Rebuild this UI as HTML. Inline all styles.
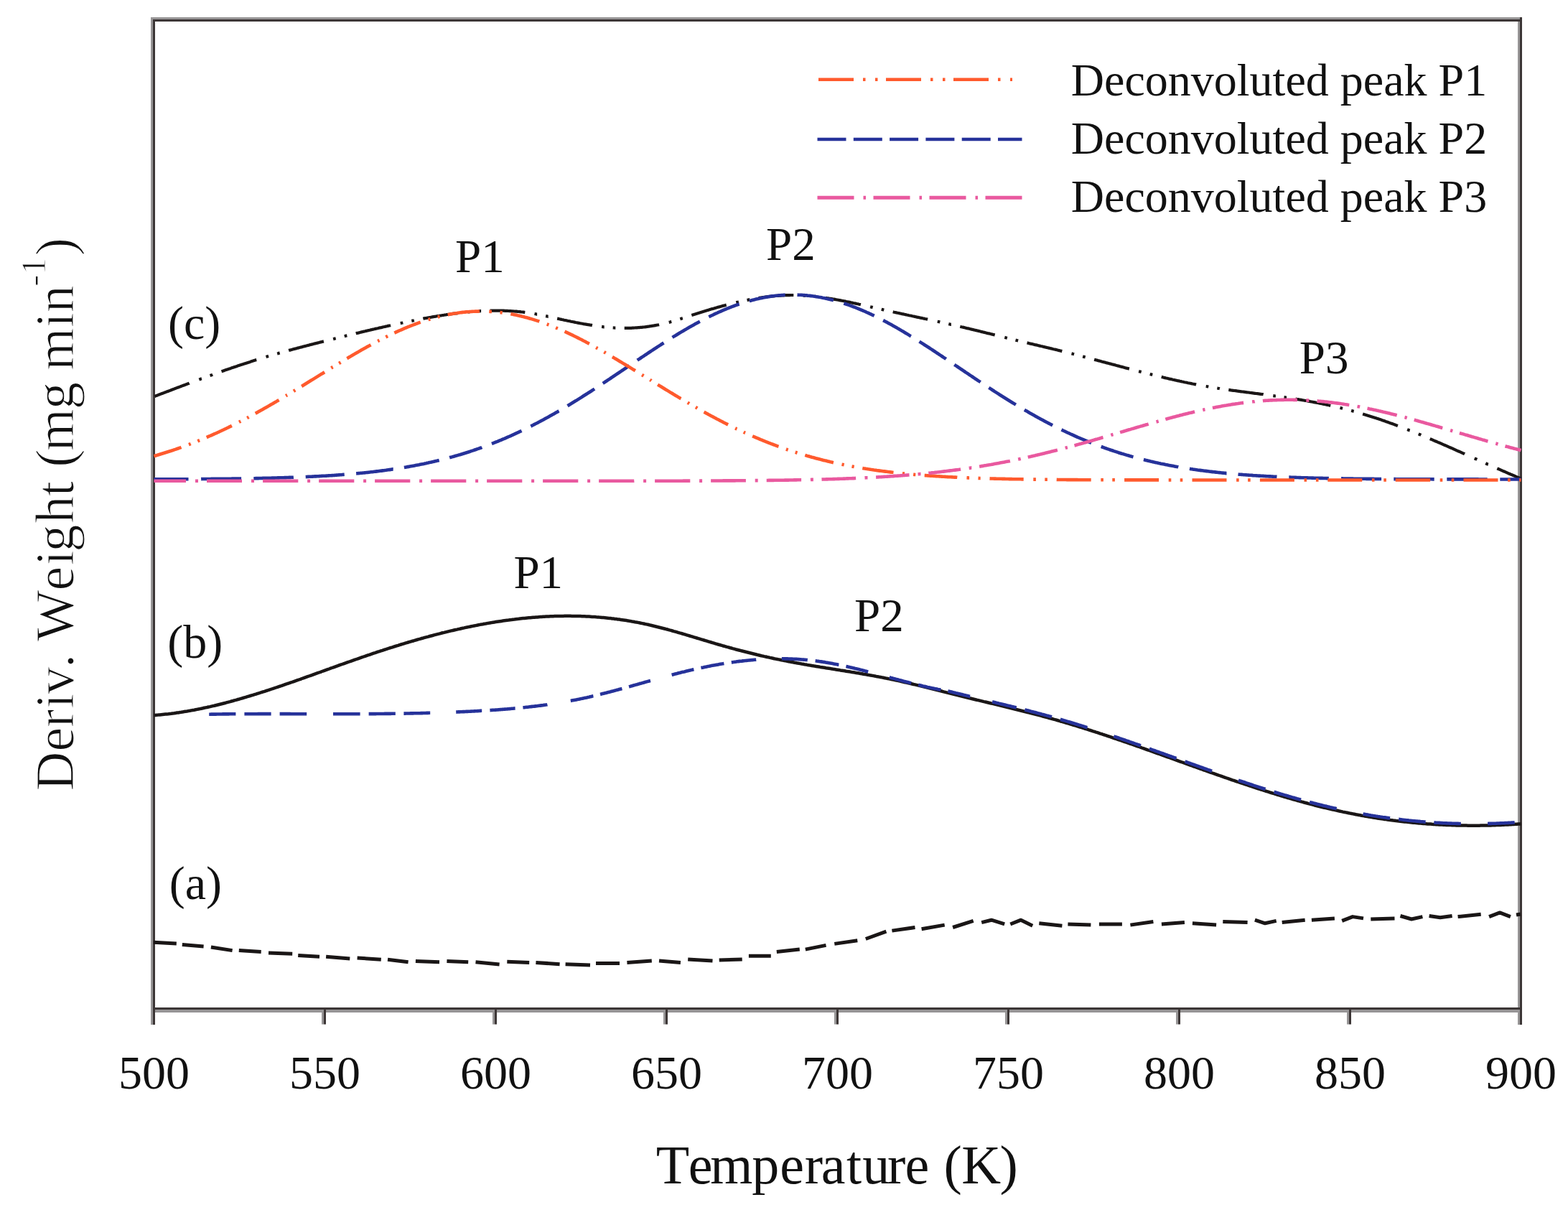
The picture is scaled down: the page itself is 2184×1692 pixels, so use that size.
<!DOCTYPE html>
<html><head><meta charset="utf-8"><title>Deriv. Weight vs Temperature</title><style>html,body{margin:0;padding:0;background:#fff;overflow:hidden}svg{display:block}text{font-kerning:none;font-variant-ligatures:none}</style></head><body>
<svg width="2184" height="1692" viewBox="0 0 2184 1692">
<rect width="2184" height="1692" fill="#ffffff"/>
<rect x="210" y="24" width="3" height="1403" fill="#979596"/>
<rect x="213" y="27" width="3" height="1400" fill="#3c3636"/>
<rect x="213" y="24" width="1907" height="3" fill="#979596"/>
<rect x="216" y="27" width="1904" height="3" fill="#3c3636"/>
<rect x="2114" y="30" width="3" height="1397" fill="#979596"/>
<rect x="2117" y="24" width="3" height="1403" fill="#3c3636"/>
<rect x="216" y="1403" width="1901" height="3" fill="#3c3636"/>
<rect x="216" y="1406" width="1901" height="4" fill="#979596"/>
<rect x="448.0" y="1406" width="3" height="20.5" fill="#979596"/>
<rect x="451.0" y="1403" width="3" height="23.5" fill="#3c3636"/>
<rect x="686.0" y="1406" width="3" height="20.5" fill="#979596"/>
<rect x="689.0" y="1403" width="3" height="23.5" fill="#3c3636"/>
<rect x="924.0" y="1406" width="3" height="20.5" fill="#979596"/>
<rect x="927.0" y="1403" width="3" height="23.5" fill="#3c3636"/>
<rect x="1162.0" y="1406" width="3" height="20.5" fill="#979596"/>
<rect x="1165.0" y="1403" width="3" height="23.5" fill="#3c3636"/>
<rect x="1400.0" y="1406" width="3" height="20.5" fill="#979596"/>
<rect x="1403.0" y="1403" width="3" height="23.5" fill="#3c3636"/>
<rect x="1638.0" y="1406" width="3" height="20.5" fill="#979596"/>
<rect x="1641.0" y="1403" width="3" height="23.5" fill="#3c3636"/>
<rect x="1876.0" y="1406" width="3" height="20.5" fill="#979596"/>
<rect x="1879.0" y="1403" width="3" height="23.5" fill="#3c3636"/>
<g fill="none" stroke-linejoin="round" stroke-linecap="butt">
<path d="M215.3,552.0 L216.9,551.4 L218.5,550.8 L220.1,550.1 L221.7,549.5 L223.3,548.9 L224.9,548.3 L226.5,547.7 L228.1,547.1 L229.7,546.5 L231.3,545.9 L232.9,545.3 L234.5,544.7 L236.1,544.1 L237.7,543.5 L239.3,542.8 L240.9,542.2 L242.5,541.6 L244.1,541.0 L245.7,540.4 L247.3,539.8 L248.9,539.2 L250.5,538.6 L252.1,538.0 L253.7,537.4 L255.3,536.8 L256.9,536.2 L258.5,535.6 L260.1,535.0 L261.7,534.4 L263.3,533.8 L263.7,533.6 M277.3,528.6 L278.9,528.0 L280.5,527.4 L280.9,527.3 M292.5,523.0 L294.1,522.5 L295.7,521.9 L296.1,521.7 M308.5,517.3 L310.1,516.8 L311.7,516.2 L313.3,515.6 L314.9,515.1 L316.5,514.5 L318.1,514.0 L319.7,513.4 L321.3,512.9 L322.9,512.3 L324.5,511.8 L326.1,511.2 L327.7,510.7 L329.3,510.2 L330.9,509.6 L332.5,509.1 L334.1,508.5 L335.7,508.0 L337.3,507.5 L338.9,507.0 L340.5,506.4 L342.1,505.9 L343.7,505.4 L345.3,504.9 L346.9,504.4 L348.5,503.9 L350.1,503.3 L351.7,502.8 L353.3,502.3 L354.9,501.8 L356.5,501.3 L357.3,501.1 M370.5,497.1 L372.1,496.6 L373.7,496.1 L374.1,496.0 M386.1,492.5 L387.7,492.1 L389.3,491.6 L389.7,491.5 M402.1,488.1 L403.7,487.6 L405.3,487.2 L406.9,486.8 L408.5,486.3 L410.1,485.9 L411.7,485.5 L413.3,485.1 L414.9,484.6 L416.5,484.2 L418.1,483.8 L419.7,483.4 L421.3,482.9 L422.9,482.5 L424.5,482.1 L426.1,481.7 L427.7,481.3 L429.3,480.9 L430.9,480.4 L432.5,480.0 L434.1,479.6 L435.7,479.2 L437.3,478.8 L438.9,478.4 L440.5,478.0 L442.1,477.6 L443.7,477.2 L445.3,476.8 L446.9,476.4 L448.5,476.0 L450.1,475.6 L450.9,475.4 M464.1,472.1 L465.7,471.7 L467.3,471.3 L467.7,471.2 M479.7,468.2 L481.3,467.8 L482.9,467.4 L483.3,467.3 M495.7,464.3 L497.3,463.9 L498.9,463.6 L500.5,463.2 L502.1,462.8 L503.7,462.4 L505.3,462.0 L506.9,461.6 L508.5,461.3 L510.1,460.9 L511.7,460.5 L513.3,460.1 L514.9,459.8 L516.5,459.4 L518.1,459.0 L519.7,458.6 L521.3,458.3 L522.9,457.9 L524.5,457.5 L526.1,457.2 L527.7,456.8 L529.3,456.4 L530.9,456.1 L532.5,455.7 L534.1,455.3 L535.7,455.0 L537.3,454.6 L538.9,454.3 L540.5,453.9 L542.1,453.5 L543.7,453.2 L544.1,453.1 M557.7,450.1 L559.3,449.8 L560.9,449.5 L561.3,449.4 M573.3,446.9 L574.9,446.6 L576.5,446.3 L576.9,446.2 M589.3,443.8 L590.9,443.4 L592.5,443.1 L594.1,442.9 L595.7,442.6 L597.3,442.3 L598.9,442.0 L600.5,441.7 L602.1,441.4 L603.7,441.1 L605.3,440.8 L606.9,440.6 L608.5,440.3 L610.1,440.0 L611.7,439.8 L613.3,439.5 L614.9,439.3 L616.5,439.0 L618.1,438.8 L619.7,438.5 L621.3,438.3 L622.9,438.0 L624.5,437.8 L626.1,437.6 L627.7,437.3 L629.3,437.1 L630.9,436.9 L632.5,436.7 L634.1,436.5 L635.7,436.3 L637.3,436.1 L637.7,436.0 M651.3,434.5 L652.9,434.4 L654.5,434.2 L654.9,434.2 M666.5,433.3 L668.1,433.2 L669.7,433.1 L670.1,433.1 M682.5,432.6 L684.1,432.6 L685.7,432.6 L687.3,432.6 L688.9,432.6 L690.5,432.6 L692.1,432.6 L693.7,432.6 L695.3,432.6 L696.9,432.6 L698.5,432.6 L700.1,432.7 L701.7,432.7 L703.3,432.8 L704.9,432.8 L706.5,432.9 L708.1,433.0 L709.7,433.1 L711.3,433.2 L712.9,433.3 L714.5,433.4 L716.1,433.5 L717.7,433.6 L719.3,433.7 L720.9,433.9 L722.5,434.0 L724.1,434.2 L725.7,434.4 L727.3,434.5 L728.9,434.7 L730.5,434.9 L731.3,435.0 M744.5,437.0 L746.1,437.3 L747.7,437.6 L748.1,437.6 M760.1,440.1 L761.7,440.4 L763.3,440.8 L763.7,440.8 M776.1,443.6 L777.7,443.9 L779.3,444.3 L780.9,444.6 L782.5,445.0 L784.1,445.3 L785.7,445.7 L787.3,446.0 L788.9,446.3 L790.5,446.7 L792.1,447.0 L793.7,447.3 L795.3,447.7 L796.9,448.0 L798.5,448.3 L800.1,448.6 L801.7,449.0 L803.3,449.3 L804.9,449.6 L806.5,449.9 L808.1,450.2 L809.7,450.5 L811.3,450.8 L812.9,451.1 L814.5,451.3 L816.1,451.6 L817.7,451.9 L819.3,452.2 L820.9,452.4 L822.5,452.7 L824.1,452.9 L824.9,453.1 M838.1,454.9 L839.7,455.1 L841.3,455.3 L841.7,455.3 M853.7,456.4 L855.3,456.5 L856.9,456.6 L857.3,456.6 M869.7,456.9 L871.3,456.9 L872.9,456.9 L874.5,456.9 L876.1,456.9 L877.7,456.8 L879.3,456.8 L880.9,456.7 L882.5,456.6 L884.1,456.5 L885.7,456.4 L887.3,456.3 L888.9,456.2 L890.5,456.1 L892.1,455.9 L893.7,455.8 L895.3,455.6 L896.9,455.5 L898.5,455.3 L900.1,455.1 L901.7,454.9 L903.3,454.7 L904.9,454.4 L906.5,454.2 L908.1,453.9 L909.7,453.7 L911.3,453.4 L912.9,453.1 L914.5,452.8 L916.1,452.5 L917.7,452.2 L918.1,452.1 M931.7,448.9 L933.3,448.5 L934.9,448.0 L935.3,447.9 M947.3,444.3 L948.9,443.8 L950.5,443.3 L950.9,443.2 M963.3,439.1 L964.9,438.6 L966.5,438.1 L968.1,437.6 L969.7,437.0 L971.3,436.5 L972.9,436.0 L974.5,435.5 L976.1,435.0 L977.7,434.5 L979.3,434.0 L980.9,433.5 L982.5,433.0 L984.1,432.5 L985.7,432.0 L987.3,431.6 L988.9,431.1 L990.5,430.6 L992.1,430.1 L993.7,429.7 L995.3,429.2 L996.9,428.7 L998.5,428.3 L1000.1,427.8 L1001.7,427.4 L1003.3,426.9 L1004.9,426.5 L1006.5,426.0 L1008.1,425.6 L1009.7,425.2 L1011.3,424.7 L1011.7,424.6 M1025.3,421.2 L1026.9,420.8 L1028.5,420.5 L1028.9,420.4 M1040.5,417.9 L1042.1,417.6 L1043.7,417.2 L1044.1,417.2 M1056.5,415.0 L1058.1,414.7 L1059.7,414.5 L1061.3,414.2 L1062.9,414.0 L1064.5,413.8 L1066.1,413.6 L1067.7,413.4 L1069.3,413.2 L1070.9,413.0 L1072.5,412.8 L1074.1,412.6 L1075.7,412.5 L1077.3,412.3 L1078.9,412.2 L1080.5,412.0 L1082.1,411.9 L1083.7,411.8 L1085.3,411.7 L1086.9,411.6 L1088.5,411.5 L1090.1,411.4 L1091.7,411.3 L1093.3,411.2 L1094.9,411.2 L1096.5,411.1 L1098.1,411.1 L1099.7,411.1 L1101.3,411.0 L1102.9,411.0 L1104.5,411.0 L1105.3,411.0 M1118.5,411.5 L1120.1,411.6 L1121.7,411.7 L1122.1,411.7 M1134.1,412.8 L1135.7,412.9 L1137.3,413.1 L1137.7,413.2 M1150.1,414.8 L1151.7,415.1 L1153.3,415.3 L1154.9,415.6 L1156.5,415.8 L1158.1,416.1 L1159.7,416.4 L1161.3,416.6 L1162.9,416.9 L1164.5,417.2 L1166.1,417.5 L1167.7,417.8 L1169.3,418.1 L1170.9,418.4 L1172.5,418.7 L1174.1,419.0 L1175.7,419.3 L1177.3,419.6 L1178.9,420.0 L1180.5,420.3 L1182.1,420.6 L1183.7,420.9 L1185.3,421.3 L1186.9,421.6 L1188.5,422.0 L1190.1,422.3 L1191.7,422.6 L1193.3,423.0 L1194.9,423.3 L1196.5,423.7 L1198.1,424.0 L1198.9,424.2 M1212.1,427.2 L1213.7,427.6 L1215.3,427.9 L1215.7,428.0 M1227.7,430.7 L1229.3,431.1 L1230.9,431.5 L1231.3,431.6 M1243.7,434.3 L1245.3,434.7 L1246.9,435.0 L1248.5,435.4 L1250.1,435.7 L1251.7,436.0 L1253.3,436.4 L1254.9,436.7 L1256.5,437.1 L1258.1,437.4 L1259.7,437.8 L1261.3,438.1 L1262.9,438.5 L1264.5,438.8 L1266.1,439.2 L1267.7,439.5 L1269.3,439.8 L1270.9,440.2 L1272.5,440.5 L1274.1,440.9 L1275.7,441.2 L1277.3,441.6 L1278.9,441.9 L1280.5,442.2 L1282.1,442.6 L1283.7,442.9 L1285.3,443.3 L1286.9,443.6 L1288.5,444.0 L1290.1,444.3 L1291.7,444.6 L1292.1,444.7 M1305.7,447.7 L1307.3,448.0 L1308.9,448.4 L1309.3,448.5 M1321.3,451.1 L1322.9,451.5 L1324.5,451.9 L1324.9,451.9 M1337.3,454.8 L1338.9,455.2 L1340.5,455.5 L1342.1,455.9 L1343.7,456.3 L1345.3,456.7 L1346.9,457.1 L1348.5,457.4 L1350.1,457.8 L1351.7,458.2 L1353.3,458.6 L1354.9,459.0 L1356.5,459.4 L1358.1,459.7 L1359.7,460.1 L1361.3,460.5 L1362.9,460.9 L1364.5,461.3 L1366.1,461.7 L1367.7,462.1 L1369.3,462.5 L1370.9,462.9 L1372.5,463.3 L1374.1,463.7 L1375.7,464.1 L1377.3,464.4 L1378.9,464.8 L1380.5,465.2 L1382.1,465.6 L1383.7,466.0 L1385.3,466.4 L1385.7,466.5 M1399.3,469.9 L1400.9,470.3 L1402.5,470.7 L1402.9,470.8 M1414.5,473.6 L1416.1,474.0 L1417.7,474.4 L1418.1,474.5 M1430.5,477.4 L1432.1,477.8 L1433.7,478.2 L1435.3,478.6 L1436.9,478.9 L1438.5,479.3 L1440.1,479.7 L1441.7,480.1 L1443.3,480.4 L1444.9,480.8 L1446.5,481.2 L1448.1,481.6 L1449.7,482.0 L1451.3,482.3 L1452.9,482.7 L1454.5,483.1 L1456.1,483.5 L1457.7,483.9 L1459.3,484.2 L1460.9,484.6 L1462.5,485.0 L1464.1,485.4 L1465.7,485.8 L1467.3,486.2 L1468.9,486.5 L1470.5,486.9 L1472.1,487.3 L1473.7,487.7 L1475.3,488.1 L1476.9,488.5 L1478.5,488.9 L1479.3,489.1 M1492.5,492.4 L1494.1,492.8 L1495.7,493.2 L1496.1,493.3 M1508.1,496.5 L1509.7,496.9 L1511.3,497.3 L1511.7,497.4 M1524.1,500.7 L1525.7,501.1 L1527.3,501.5 L1528.9,501.9 L1530.5,502.4 L1532.1,502.8 L1533.7,503.2 L1535.3,503.7 L1536.9,504.1 L1538.5,504.5 L1540.1,504.9 L1541.7,505.4 L1543.3,505.8 L1544.9,506.2 L1546.5,506.6 L1548.1,507.1 L1549.7,507.5 L1551.3,507.9 L1552.9,508.3 L1554.5,508.8 L1556.1,509.2 L1557.7,509.6 L1559.3,510.1 L1560.9,510.5 L1562.5,510.9 L1564.1,511.3 L1565.7,511.7 L1567.3,512.2 L1568.9,512.6 L1570.5,513.0 L1572.1,513.4 L1572.9,513.6 M1586.1,517.1 L1587.7,517.5 L1589.3,517.9 L1589.7,518.0 M1601.7,521.0 L1603.3,521.4 L1604.9,521.8 L1605.3,521.9 M1617.7,524.9 L1619.3,525.3 L1620.9,525.7 L1622.5,526.1 L1624.1,526.5 L1625.7,526.8 L1627.3,527.2 L1628.9,527.6 L1630.5,527.9 L1632.1,528.3 L1633.7,528.7 L1635.3,529.0 L1636.9,529.4 L1638.5,529.7 L1640.1,530.1 L1641.7,530.4 L1643.3,530.8 L1644.9,531.1 L1646.5,531.5 L1648.1,531.8 L1649.7,532.2 L1651.3,532.5 L1652.9,532.8 L1654.5,533.2 L1656.1,533.5 L1657.7,533.8 L1659.3,534.1 L1660.9,534.5 L1662.5,534.8 L1664.1,535.1 L1665.7,535.4 L1666.1,535.5 M1679.7,538.0 L1681.3,538.2 L1682.9,538.5 L1683.3,538.6 M1695.3,540.5 L1696.9,540.8 L1698.5,541.0 L1698.9,541.1 M1711.3,542.9 L1712.9,543.1 L1714.5,543.4 L1716.1,543.6 L1717.7,543.8 L1719.3,544.0 L1720.9,544.2 L1722.5,544.4 L1724.1,544.7 L1725.7,544.9 L1727.3,545.1 L1728.9,545.3 L1730.5,545.5 L1732.1,545.7 L1733.7,545.9 L1735.3,546.1 L1736.9,546.3 L1738.5,546.5 L1740.1,546.7 L1741.7,547.0 L1743.3,547.2 L1744.9,547.4 L1746.5,547.6 L1748.1,547.8 L1749.7,548.0 L1751.3,548.2 L1752.9,548.4 L1754.5,548.6 L1756.1,548.8 L1757.7,549.0 L1759.3,549.2 L1759.7,549.3 M1773.3,551.1 L1774.9,551.3 L1776.5,551.5 L1776.9,551.5 M1788.5,553.2 L1790.1,553.4 L1791.7,553.7 L1792.1,553.7 M1804.5,555.6 L1806.1,555.9 L1807.7,556.1 L1809.3,556.4 L1810.9,556.7 L1812.5,556.9 L1814.1,557.2 L1815.7,557.5 L1817.3,557.8 L1818.9,558.0 L1820.5,558.3 L1822.1,558.6 L1823.7,558.9 L1825.3,559.2 L1826.9,559.5 L1828.5,559.8 L1830.1,560.1 L1831.7,560.4 L1833.3,560.7 L1834.9,561.0 L1836.5,561.3 L1838.1,561.7 L1839.7,562.0 L1841.3,562.3 L1842.9,562.6 L1844.5,563.0 L1846.1,563.3 L1847.7,563.6 L1849.3,564.0 L1850.9,564.3 L1852.5,564.7 L1853.3,564.9 M1866.5,567.9 L1868.1,568.3 L1869.7,568.7 L1870.1,568.8 M1882.1,571.9 L1883.7,572.3 L1885.3,572.8 L1885.7,572.9 M1898.1,576.4 L1899.7,576.9 L1901.3,577.4 L1902.9,577.9 L1904.5,578.4 L1906.1,578.9 L1907.7,579.4 L1909.3,579.9 L1910.9,580.4 L1912.5,580.9 L1914.1,581.4 L1915.7,581.9 L1917.3,582.5 L1918.9,583.0 L1920.5,583.5 L1922.1,584.1 L1923.7,584.6 L1925.3,585.2 L1926.9,585.7 L1928.5,586.3 L1930.1,586.9 L1931.7,587.4 L1933.3,588.0 L1934.9,588.6 L1936.5,589.2 L1938.1,589.7 L1939.7,590.3 L1941.3,590.9 L1942.9,591.5 L1944.5,592.1 L1946.1,592.7 L1946.9,593.0 M1960.1,598.1 L1961.7,598.7 L1963.3,599.4 L1963.7,599.5 M1975.7,604.4 L1977.3,605.0 L1978.9,605.7 L1979.3,605.9 M1991.7,611.1 L1993.3,611.7 L1994.9,612.4 L1996.5,613.1 L1998.1,613.8 L1999.7,614.5 L2001.3,615.2 L2002.9,615.9 L2004.5,616.5 L2006.1,617.2 L2007.7,617.9 L2009.3,618.6 L2010.9,619.3 L2012.5,620.0 L2014.1,620.7 L2015.7,621.4 L2017.3,622.1 L2018.9,622.8 L2020.5,623.5 L2022.1,624.2 L2023.7,624.9 L2025.3,625.7 L2026.9,626.4 L2028.5,627.1 L2030.1,627.8 L2031.7,628.5 L2033.3,629.2 L2034.9,629.9 L2036.5,630.6 L2038.1,631.3 L2039.7,632.0 L2040.1,632.2 M2053.7,638.3 L2055.3,639.0 L2056.9,639.7 L2057.3,639.9 M2069.3,645.2 L2070.9,646.0 L2072.5,646.7 L2072.9,646.8 M2085.3,652.3 L2086.9,653.0 L2088.5,653.7 L2090.1,654.4 L2091.7,655.1 L2093.3,655.8 L2094.9,656.5 L2096.5,657.2 L2098.1,657.9 L2099.7,658.6 L2101.3,659.3 L2102.9,660.0 L2104.5,660.7 L2106.1,661.3 L2107.7,662.0 L2109.3,662.7 L2110.9,663.4 L2112.5,664.1 L2114.1,664.7 L2115.7,665.4 L2117.3,666.1 L2118.5,666.6" stroke="#1a1616" stroke-width="4.2"/>
<path d="M214.5,667.3 L216.1,667.3 L217.7,667.3 L219.3,667.3 L220.9,667.3 L222.5,667.3 L224.1,667.3 L225.7,667.3 L227.3,667.3 L228.9,667.3 L230.5,667.3 L232.1,667.3 L233.7,667.3 L235.3,667.3 L236.9,667.3 L238.5,667.3 L240.1,667.3 L241.7,667.3 L243.3,667.3 L244.9,667.2 L246.5,667.2 L248.1,667.2 L249.7,667.2 L251.3,667.2 L252.9,667.2 L254.5,667.2 L256.1,667.2 L257.7,667.2 L259.3,667.2 L260.9,667.2 L262.5,667.2 M280.1,667.1 L281.7,667.0 L283.3,667.0 L284.9,667.0 L286.5,667.0 L288.1,667.0 L289.7,667.0 L291.3,667.0 L292.9,667.0 L294.5,666.9 L296.1,666.9 L297.7,666.9 L299.3,666.9 L300.9,666.9 L302.5,666.9 L304.1,666.9 L305.7,666.8 L307.3,666.8 L308.9,666.8 L310.5,666.8 L312.1,666.8 L313.7,666.8 L315.3,666.7 L316.9,666.7 L318.5,666.7 L320.1,666.7 L321.7,666.7 L323.3,666.6 L324.9,666.6 L326.5,666.6 L328.1,666.6 L329.7,666.6 L331.3,666.5 L332.9,666.5 L334.5,666.5 L336.1,666.5 M353.3,666.2 L354.9,666.2 L356.5,666.1 L358.1,666.1 L359.7,666.1 L361.3,666.0 L362.9,666.0 L364.5,666.0 L366.1,665.9 L367.7,665.9 L369.3,665.9 L370.9,665.8 L372.5,665.8 L374.1,665.8 L375.7,665.7 L377.3,665.7 L378.9,665.6 L380.5,665.6 L382.1,665.6 L383.7,665.5 L385.3,665.5 L386.9,665.4 L388.5,665.4 L390.1,665.3 L391.7,665.3 L393.3,665.2 L394.9,665.2 L396.5,665.1 L398.1,665.1 L399.7,665.0 L401.3,665.0 L402.9,664.9 L404.5,664.9 L406.1,664.8 L407.7,664.8 L408.9,664.7 M425.7,664.1 L427.3,664.0 L428.9,663.9 L430.5,663.8 L432.1,663.8 L433.7,663.7 L435.3,663.6 L436.9,663.5 L438.5,663.4 L440.1,663.4 L441.7,663.3 L443.3,663.2 L444.9,663.1 L446.5,663.0 L448.1,662.9 L449.7,662.8 L451.3,662.8 L452.9,662.7 L454.5,662.6 L456.1,662.5 L457.7,662.4 L459.3,662.3 L460.9,662.2 L462.5,662.1 L464.1,662.0 L465.7,661.9 L467.3,661.7 L468.9,661.6 L470.5,661.5 L472.1,661.4 L473.7,661.3 L475.3,661.2 L476.9,661.0 L478.5,660.9 L479.7,660.8 M496.1,659.4 L497.7,659.3 L499.3,659.1 L500.9,659.0 L502.5,658.8 L504.1,658.7 L505.7,658.5 L507.3,658.4 L508.9,658.2 L510.5,658.0 L512.1,657.9 L513.7,657.7 L515.3,657.5 L516.9,657.3 L518.5,657.2 L520.1,657.0 L521.7,656.8 L523.3,656.6 L524.9,656.4 L526.5,656.2 L528.1,656.0 L529.7,655.8 L531.3,655.6 L532.9,655.4 L534.5,655.2 L536.1,655.0 L537.7,654.8 L539.3,654.5 L540.9,654.3 L542.5,654.1 L544.1,653.9 L545.7,653.6 L547.3,653.4 L547.7,653.4 M562.9,651.0 L564.5,650.7 L566.1,650.4 L567.7,650.1 L569.3,649.9 L570.9,649.6 L572.5,649.3 L574.1,649.0 L575.7,648.7 L577.3,648.4 L578.9,648.1 L580.5,647.8 L582.1,647.5 L583.7,647.2 L585.3,646.8 L586.9,646.5 L588.5,646.2 L590.1,645.9 L591.7,645.5 L593.3,645.2 L594.9,644.8 L596.5,644.5 L598.1,644.1 L599.7,643.8 L601.3,643.4 L602.9,643.1 L604.5,642.7 L606.1,642.3 L607.7,641.9 L609.3,641.6 L610.9,641.2 L611.7,641.0 M626.1,637.3 L627.7,636.8 L629.3,636.4 L630.9,635.9 L632.5,635.5 L634.1,635.0 L635.7,634.6 L637.3,634.1 L638.9,633.6 L640.5,633.2 L642.1,632.7 L643.7,632.2 L645.3,631.7 L646.9,631.2 L648.5,630.7 L650.1,630.2 L651.7,629.7 L653.3,629.2 L654.9,628.7 L656.5,628.1 L658.1,627.6 L659.7,627.1 L661.3,626.5 L662.9,626.0 L664.5,625.4 L666.1,624.9 L667.7,624.3 L669.3,623.8 L670.9,623.2 L671.3,623.0 M684.9,617.9 L686.5,617.3 L688.1,616.7 L689.7,616.0 L691.3,615.4 L692.9,614.8 L694.5,614.1 L696.1,613.4 L697.7,612.8 L699.3,612.1 L700.9,611.4 L702.5,610.8 L704.1,610.1 L705.7,609.4 L707.3,608.7 L708.9,608.0 L710.5,607.3 L712.1,606.6 L713.7,605.8 L715.3,605.1 L716.9,604.4 L718.5,603.6 L720.1,602.9 L721.7,602.2 L723.3,601.4 L724.9,600.7 L726.5,599.9 M739.3,593.6 L740.9,592.8 L742.5,592.0 L744.1,591.1 L745.7,590.3 L747.3,589.5 L748.9,588.7 L750.5,587.8 L752.1,587.0 L753.7,586.1 L755.3,585.3 L756.9,584.4 L758.5,583.5 L760.1,582.6 L761.7,581.8 L763.3,580.9 L764.9,580.0 L766.5,579.1 L768.1,578.2 L769.7,577.3 L771.3,576.4 L772.9,575.5 L774.5,574.6 L776.1,573.7 L777.7,572.7 L778.5,572.3 M790.5,565.2 L792.1,564.2 L793.7,563.2 L795.3,562.3 L796.9,561.3 L798.5,560.3 L800.1,559.3 L801.7,558.3 L803.3,557.4 L804.9,556.4 L806.5,555.4 L808.1,554.4 L809.7,553.4 L811.3,552.3 L812.9,551.3 L814.5,550.3 L816.1,549.3 L817.7,548.3 L819.3,547.2 L820.9,546.2 L822.5,545.2 L824.1,544.2 L825.7,543.1 L827.3,542.1 L828.1,541.6 M839.7,533.9 L841.3,532.9 L842.9,531.8 L844.5,530.8 L846.1,529.7 L847.7,528.6 L849.3,527.6 L850.9,526.5 L852.5,525.4 L854.1,524.3 L855.7,523.3 L857.3,522.2 L858.9,521.1 L860.5,520.0 L862.1,519.0 L863.7,517.9 L865.3,516.8 L866.9,515.7 L868.5,514.7 L870.1,513.6 L871.7,512.5 L873.3,511.4 L874.9,510.3 L876.5,509.3 M887.7,501.7 L889.3,500.6 L890.9,499.6 L892.5,498.5 L894.1,497.4 L895.7,496.4 L897.3,495.3 L898.9,494.2 L900.5,493.2 L902.1,492.1 L903.7,491.0 L905.3,490.0 L906.9,488.9 L908.5,487.9 L910.1,486.8 L911.7,485.8 L913.3,484.7 L914.9,483.7 L916.5,482.6 L918.1,481.6 L919.7,480.6 L921.3,479.5 L922.9,478.5 L924.5,477.5 M936.5,469.9 L938.1,468.9 L939.7,467.9 L941.3,467.0 L942.9,466.0 L944.5,465.0 L946.1,464.0 L947.7,463.1 L949.3,462.1 L950.9,461.2 L952.5,460.2 L954.1,459.3 L955.7,458.4 L957.3,457.4 L958.9,456.5 L960.5,455.6 L962.1,454.7 L963.7,453.8 L965.3,452.9 L966.9,452.0 L968.5,451.1 L970.1,450.2 L971.7,449.4 L973.3,448.5 L974.9,447.7 M987.3,441.3 L988.9,440.5 L990.5,439.7 L992.1,439.0 L993.7,438.2 L995.3,437.4 L996.9,436.7 L998.5,436.0 L1000.1,435.2 L1001.7,434.5 L1003.3,433.8 L1004.9,433.1 L1006.5,432.4 L1008.1,431.7 L1009.7,431.0 L1011.3,430.4 L1012.9,429.7 L1014.5,429.1 L1016.1,428.4 L1017.7,427.8 L1019.3,427.2 L1020.9,426.6 L1022.5,426.0 L1024.1,425.4 L1025.7,424.8 L1027.3,424.3 L1028.9,423.7 L1029.7,423.5 M1043.7,419.1 L1045.3,418.7 L1046.9,418.2 L1048.5,417.8 L1050.1,417.4 L1051.7,417.0 L1053.3,416.6 L1054.9,416.2 L1056.5,415.9 L1058.1,415.5 L1059.7,415.2 L1061.3,414.9 L1062.9,414.5 L1064.5,414.2 L1066.1,413.9 L1067.7,413.7 L1069.3,413.4 L1070.9,413.1 L1072.5,412.9 L1074.1,412.6 L1075.7,412.4 L1077.3,412.2 L1078.9,412.0 L1080.5,411.8 L1082.1,411.7 L1083.7,411.5 L1085.3,411.3 L1086.9,411.2 L1088.5,411.1 L1090.1,411.0 L1091.7,410.9 L1093.3,410.8 L1093.7,410.8 M1110.5,410.6 L1112.1,410.7 L1113.7,410.7 L1115.3,410.8 L1116.9,410.9 L1118.5,411.0 L1120.1,411.1 L1121.7,411.3 L1123.3,411.4 L1124.9,411.6 L1126.5,411.7 L1128.1,411.9 L1129.7,412.1 L1131.3,412.3 L1132.9,412.5 L1134.5,412.7 L1136.1,413.0 L1137.7,413.2 L1139.3,413.5 L1140.9,413.8 L1142.5,414.0 L1144.1,414.3 L1145.7,414.7 L1147.3,415.0 L1148.9,415.3 L1150.5,415.7 L1152.1,416.0 L1153.7,416.4 L1155.3,416.8 L1156.9,417.2 L1158.5,417.6 L1160.1,418.0 L1160.9,418.2 M1175.3,422.5 L1176.9,423.0 L1178.5,423.5 L1180.1,424.1 L1181.7,424.6 L1183.3,425.2 L1184.9,425.8 L1186.5,426.4 L1188.1,427.0 L1189.7,427.6 L1191.3,428.2 L1192.9,428.8 L1194.5,429.5 L1196.1,430.1 L1197.7,430.8 L1199.3,431.5 L1200.9,432.1 L1202.5,432.8 L1204.1,433.5 L1205.7,434.2 L1207.3,435.0 L1208.9,435.7 L1210.5,436.4 L1212.1,437.2 L1213.7,437.9 L1215.3,438.7 L1216.9,439.4 L1217.7,439.8 M1230.1,446.1 L1231.7,446.9 L1233.3,447.8 L1234.9,448.6 L1236.5,449.5 L1238.1,450.4 L1239.7,451.2 L1241.3,452.1 L1242.9,453.0 L1244.5,453.9 L1246.1,454.8 L1247.7,455.7 L1249.3,456.6 L1250.9,457.6 L1252.5,458.5 L1254.1,459.4 L1255.7,460.4 L1257.3,461.3 L1258.9,462.2 L1260.5,463.2 L1262.1,464.2 L1263.7,465.1 L1265.3,466.1 L1266.9,467.1 L1268.5,468.1 L1268.9,468.3 M1280.5,475.6 L1282.1,476.6 L1283.7,477.6 L1285.3,478.6 L1286.9,479.7 L1288.5,480.7 L1290.1,481.7 L1291.7,482.8 L1293.3,483.8 L1294.9,484.8 L1296.5,485.9 L1298.1,486.9 L1299.7,488.0 L1301.3,489.0 L1302.9,490.1 L1304.5,491.2 L1306.1,492.2 L1307.7,493.3 L1309.3,494.4 L1310.9,495.4 L1312.5,496.5 L1314.1,497.6 L1315.7,498.6 L1317.3,499.7 L1317.7,500.0 M1329.3,507.8 L1330.9,508.9 L1332.5,509.9 L1334.1,511.0 L1335.7,512.1 L1337.3,513.2 L1338.9,514.3 L1340.5,515.3 L1342.1,516.4 L1343.7,517.5 L1345.3,518.6 L1346.9,519.6 L1348.5,520.7 L1350.1,521.8 L1351.7,522.9 L1353.3,523.9 L1354.9,525.0 L1356.5,526.1 L1358.1,527.2 L1359.7,528.2 L1361.3,529.3 L1362.9,530.4 L1364.5,531.4 L1365.7,532.2 M1377.3,539.9 L1378.9,540.9 L1380.5,541.9 L1382.1,543.0 L1383.7,544.0 L1385.3,545.1 L1386.9,546.1 L1388.5,547.1 L1390.1,548.1 L1391.7,549.2 L1393.3,550.2 L1394.9,551.2 L1396.5,552.2 L1398.1,553.2 L1399.7,554.2 L1401.3,555.2 L1402.9,556.2 L1404.5,557.2 L1406.1,558.2 L1407.7,559.2 L1409.3,560.2 L1410.9,561.2 L1412.5,562.1 L1414.1,563.1 L1414.9,563.6 M1426.9,570.8 L1428.5,571.7 L1430.1,572.6 L1431.7,573.5 L1433.3,574.5 L1434.9,575.4 L1436.5,576.3 L1438.1,577.2 L1439.7,578.1 L1441.3,579.0 L1442.9,579.9 L1444.5,580.8 L1446.1,581.7 L1447.7,582.5 L1449.3,583.4 L1450.9,584.3 L1452.5,585.1 L1454.1,586.0 L1455.7,586.9 L1457.3,587.7 L1458.9,588.5 L1460.5,589.4 L1462.1,590.2 L1463.7,591.0 L1465.3,591.9 L1466.1,592.3 M1478.5,598.4 L1480.1,599.2 L1481.7,600.0 L1483.3,600.7 L1484.9,601.5 L1486.5,602.3 L1488.1,603.0 L1489.7,603.7 L1491.3,604.5 L1492.9,605.2 L1494.5,605.9 L1496.1,606.6 L1497.7,607.4 L1499.3,608.1 L1500.9,608.8 L1502.5,609.5 L1504.1,610.2 L1505.7,610.8 L1507.3,611.5 L1508.9,612.2 L1510.5,612.9 L1512.1,613.5 L1513.7,614.2 L1515.3,614.8 L1516.9,615.5 L1518.5,616.1 L1520.1,616.8 M1533.7,621.9 L1535.3,622.5 L1536.9,623.1 L1538.5,623.7 L1540.1,624.2 L1541.7,624.8 L1543.3,625.4 L1544.9,625.9 L1546.5,626.5 L1548.1,627.0 L1549.7,627.5 L1551.3,628.1 L1552.9,628.6 L1554.5,629.1 L1556.1,629.6 L1557.7,630.2 L1559.3,630.7 L1560.9,631.2 L1562.5,631.7 L1564.1,632.1 L1565.7,632.6 L1567.3,633.1 L1568.9,633.6 L1570.5,634.1 L1572.1,634.5 L1573.7,635.0 L1575.3,635.4 L1576.9,635.9 L1578.5,636.3 M1592.9,640.1 L1594.5,640.5 L1596.1,640.9 L1597.7,641.3 L1599.3,641.7 L1600.9,642.1 L1602.5,642.5 L1604.1,642.8 L1605.7,643.2 L1607.3,643.6 L1608.9,643.9 L1610.5,644.3 L1612.1,644.6 L1613.7,645.0 L1615.3,645.3 L1616.9,645.7 L1618.5,646.0 L1620.1,646.3 L1621.7,646.6 L1623.3,647.0 L1624.9,647.3 L1626.5,647.6 L1628.1,647.9 L1629.7,648.2 L1631.3,648.5 L1632.9,648.8 L1634.5,649.1 L1636.1,649.4 L1637.7,649.7 L1639.3,650.0 L1640.9,650.2 L1641.3,650.3 M1656.9,652.8 L1658.5,653.1 L1660.1,653.3 L1661.7,653.6 L1663.3,653.8 L1664.9,654.0 L1666.5,654.2 L1668.1,654.5 L1669.7,654.7 L1671.3,654.9 L1672.9,655.1 L1674.5,655.3 L1676.1,655.5 L1677.7,655.7 L1679.3,655.9 L1680.9,656.1 L1682.5,656.3 L1684.1,656.5 L1685.7,656.7 L1687.3,656.9 L1688.9,657.1 L1690.5,657.3 L1692.1,657.4 L1693.7,657.6 L1695.3,657.8 L1696.9,658.0 L1698.5,658.1 L1700.1,658.3 L1701.7,658.5 L1703.3,658.6 L1704.9,658.8 L1706.5,658.9 L1708.1,659.1 L1708.5,659.1 M1724.5,660.5 L1726.1,660.7 L1727.7,660.8 L1729.3,660.9 L1730.9,661.0 L1732.5,661.2 L1734.1,661.3 L1735.7,661.4 L1737.3,661.5 L1738.9,661.6 L1740.5,661.7 L1742.1,661.8 L1743.7,661.9 L1745.3,662.1 L1746.9,662.2 L1748.5,662.3 L1750.1,662.4 L1751.7,662.5 L1753.3,662.6 L1754.9,662.6 L1756.5,662.7 L1758.1,662.8 L1759.7,662.9 L1761.3,663.0 L1762.9,663.1 L1764.5,663.2 L1766.1,663.3 L1767.7,663.4 L1769.3,663.4 L1770.9,663.5 L1772.5,663.6 L1774.1,663.7 L1775.7,663.8 L1777.3,663.8 L1778.5,663.9 M1795.3,664.6 L1796.9,664.6 L1798.5,664.7 L1800.1,664.8 L1801.7,664.8 L1803.3,664.9 L1804.9,664.9 L1806.5,665.0 L1808.1,665.0 L1809.7,665.1 L1811.3,665.1 L1812.9,665.2 L1814.5,665.2 L1816.1,665.3 L1817.7,665.3 L1819.3,665.4 L1820.9,665.4 L1822.5,665.5 L1824.1,665.5 L1825.7,665.5 L1827.3,665.6 L1828.9,665.6 L1830.5,665.7 L1832.1,665.7 L1833.7,665.7 L1835.3,665.8 L1836.9,665.8 L1838.5,665.9 L1840.1,665.9 L1841.7,665.9 L1843.3,666.0 L1844.9,666.0 L1846.5,666.0 L1848.1,666.1 L1849.7,666.1 L1850.9,666.1 M1868.1,666.4 L1869.7,666.4 L1871.3,666.5 L1872.9,666.5 L1874.5,666.5 L1876.1,666.5 L1877.7,666.6 L1879.3,666.6 L1880.9,666.6 L1882.5,666.6 L1884.1,666.6 L1885.7,666.7 L1887.3,666.7 L1888.9,666.7 L1890.5,666.7 L1892.1,666.7 L1893.7,666.8 L1895.3,666.8 L1896.9,666.8 L1898.5,666.8 L1900.1,666.8 L1901.7,666.8 L1903.3,666.9 L1904.9,666.9 L1906.5,666.9 L1908.1,666.9 L1909.7,666.9 L1911.3,666.9 L1912.9,666.9 L1914.5,667.0 L1916.1,667.0 L1917.7,667.0 L1919.3,667.0 L1920.9,667.0 L1922.5,667.0 L1924.1,667.0 M1941.3,667.1 L1942.9,667.1 L1944.5,667.2 L1946.1,667.2 L1947.7,667.2 L1949.3,667.2 L1950.9,667.2 L1952.5,667.2 L1954.1,667.2 L1955.7,667.2 L1957.3,667.2 L1958.9,667.2 L1960.5,667.2 L1962.1,667.2 L1963.7,667.2 L1965.3,667.3 L1966.9,667.3 L1968.5,667.3 L1970.1,667.3 L1971.7,667.3 L1973.3,667.3 L1974.9,667.3 L1976.5,667.3 L1978.1,667.3 L1979.7,667.3 L1981.3,667.3 L1982.9,667.3 L1984.5,667.3 L1986.1,667.3 L1987.7,667.3 L1989.3,667.3 L1990.9,667.3 L1992.5,667.3 L1994.1,667.3 L1995.7,667.4 L1997.3,667.4 L1997.7,667.4 M2015.3,667.4 L2016.9,667.4 L2018.5,667.4 L2020.1,667.4 L2021.7,667.4 L2023.3,667.4 L2024.9,667.4 L2026.5,667.4 L2028.1,667.4 L2029.7,667.4 L2031.3,667.4 L2032.9,667.4 L2034.5,667.4 L2036.1,667.4 L2037.7,667.4 L2039.3,667.4 L2040.9,667.4 L2042.5,667.4 L2044.1,667.4 L2045.7,667.4 L2047.3,667.4 L2048.9,667.4 L2050.5,667.4 L2052.1,667.4 L2053.7,667.4 L2055.3,667.4 L2056.9,667.4 L2058.5,667.4 L2060.1,667.5 L2061.7,667.5 L2063.3,667.5 L2064.9,667.5 L2066.5,667.5 L2068.1,667.5 L2069.7,667.5 L2071.3,667.5 L2071.7,667.5 M2089.3,667.5 L2090.9,667.5 L2092.5,667.5 L2094.1,667.5 L2095.7,667.5 L2097.3,667.5 L2098.9,667.5 L2100.5,667.5 L2102.1,667.5 L2103.7,667.5 L2105.3,667.5 L2106.9,667.5 L2108.5,667.5 L2110.1,667.5 L2111.7,667.5 L2113.3,667.5 L2114.9,667.5 L2116.5,667.5 L2118.1,667.5 L2118.5,667.5" stroke="#26329a" stroke-width="4.6"/>
<path d="M214.5,635.2 L216.1,634.7 L217.7,634.2 L219.3,633.8 L220.9,633.3 L222.5,632.8 L224.1,632.3 L225.7,631.8 L227.3,631.3 L228.9,630.8 L230.5,630.3 L232.1,629.8 L233.7,629.3 L235.3,628.8 L236.9,628.3 L238.5,627.8 L240.1,627.2 L241.7,626.7 L243.3,626.1 L244.9,625.6 L246.5,625.0 L248.1,624.5 L249.7,623.9 L251.3,623.4 L252.5,622.9 M262.9,619.1 L264.5,618.5 L265.7,618.0 M275.3,614.3 L276.9,613.6 L278.1,613.1 M287.7,609.1 L289.3,608.4 L290.9,607.7 L292.5,607.0 L294.1,606.3 L295.7,605.6 L297.3,604.9 L298.9,604.2 L300.5,603.5 L302.1,602.8 L303.7,602.0 L305.3,601.3 L306.9,600.5 L308.5,599.8 L310.1,599.0 L311.7,598.3 L313.3,597.5 L314.9,596.8 L316.5,596.0 L318.1,595.2 L319.7,594.4 L321.3,593.7 L322.9,592.9 M332.9,587.8 L334.5,587.0 L335.3,586.6 M344.1,582.0 L345.7,581.2 L346.5,580.7 M355.7,575.7 L357.3,574.9 L358.9,574.0 L360.5,573.1 L362.1,572.2 L363.7,571.3 L365.3,570.4 L366.9,569.5 L368.5,568.6 L370.1,567.7 L371.7,566.8 L373.3,565.9 L374.9,564.9 L376.5,564.0 L378.1,563.1 L379.7,562.2 L381.3,561.2 L382.9,560.3 L384.5,559.4 L386.1,558.4 L387.7,557.5 L388.5,557.0 M398.1,551.3 L399.7,550.3 L400.1,550.1 M408.9,544.8 L410.5,543.8 L411.3,543.3 M420.1,537.9 L421.7,537.0 L423.3,536.0 L424.9,535.0 L426.5,534.0 L428.1,533.0 L429.7,532.0 L431.3,531.0 L432.9,530.0 L434.5,529.1 L436.1,528.1 L437.7,527.1 L439.3,526.1 L440.9,525.1 L442.5,524.1 L444.1,523.1 L445.7,522.1 L447.3,521.1 L448.9,520.2 L450.5,519.2 L452.1,518.2 M461.3,512.5 L462.9,511.5 L463.7,511.1 M472.1,505.9 L473.7,505.0 L474.5,504.5 M483.3,499.2 L484.9,498.3 L486.5,497.3 L488.1,496.4 L489.7,495.4 L491.3,494.5 L492.9,493.6 L494.5,492.6 L496.1,491.7 L497.7,490.8 L499.3,489.9 L500.9,488.9 L502.5,488.0 L504.1,487.1 L505.7,486.2 L507.3,485.3 L508.9,484.4 L510.5,483.5 L512.1,482.6 L513.7,481.8 L515.3,480.9 L516.5,480.2 M526.1,475.1 L527.7,474.3 L528.5,473.9 M537.3,469.4 L538.9,468.6 L540.1,468.0 M549.3,463.6 L550.9,462.9 L552.5,462.1 L554.1,461.4 L555.7,460.7 L557.3,460.0 L558.9,459.3 L560.5,458.6 L562.1,457.9 L563.7,457.2 L565.3,456.5 L566.9,455.9 L568.5,455.2 L570.1,454.6 L571.7,453.9 L573.3,453.3 L574.9,452.7 L576.5,452.1 L578.1,451.5 L579.7,450.9 L581.3,450.3 L582.9,449.7 L584.5,449.1 L585.7,448.7 M596.5,445.1 L598.1,444.7 L599.3,444.3 M609.7,441.4 L611.3,441.0 L612.5,440.7 M623.7,438.2 L625.3,437.9 L626.9,437.6 L628.5,437.3 L630.1,437.0 L631.7,436.7 L633.3,436.5 L634.9,436.2 L636.5,436.0 L638.1,435.7 L639.7,435.5 L641.3,435.3 L642.9,435.1 L644.5,434.9 L646.1,434.8 L647.7,434.6 L649.3,434.4 L650.9,434.3 L652.5,434.2 L654.1,434.1 L655.7,434.0 L657.3,433.9 L658.9,433.8 L660.5,433.7 L662.1,433.6 L663.7,433.6 L665.3,433.6 L666.9,433.5 L668.1,433.5 M681.3,433.8 L682.9,433.9 L684.5,434.0 L684.9,434.0 M696.5,435.0 L698.1,435.2 L699.7,435.4 M711.3,437.2 L712.9,437.5 L714.5,437.8 L716.1,438.2 L717.7,438.5 L719.3,438.8 L720.9,439.2 L722.5,439.5 L724.1,439.9 L725.7,440.3 L727.3,440.7 L728.9,441.0 L730.5,441.5 L732.1,441.9 L733.7,442.3 L735.3,442.7 L736.9,443.2 L738.5,443.7 L740.1,444.1 L741.7,444.6 L743.3,445.1 L744.9,445.6 L746.5,446.1 L748.1,446.6 L749.7,447.1 L751.3,447.7 M761.7,451.4 L763.3,452.0 L764.5,452.4 M774.1,456.3 L775.7,457.0 L776.9,457.5 M786.5,461.7 L788.1,462.4 L789.7,463.1 L791.3,463.9 L792.9,464.6 L794.5,465.4 L796.1,466.2 L797.7,466.9 L799.3,467.7 L800.9,468.5 L802.5,469.3 L804.1,470.1 L805.7,470.9 L807.3,471.7 L808.9,472.5 L810.5,473.3 L812.1,474.2 L813.7,475.0 L815.3,475.8 L816.9,476.7 L818.5,477.5 L820.1,478.4 L820.9,478.8 M830.1,483.9 L831.7,484.8 L832.5,485.2 M841.3,490.2 L842.9,491.1 L843.7,491.6 M852.9,497.0 L854.5,497.9 L856.1,498.9 L857.7,499.8 L859.3,500.8 L860.9,501.7 L862.5,502.7 L864.1,503.7 L865.7,504.6 L867.3,505.6 L868.9,506.6 L870.5,507.5 L872.1,508.5 L873.7,509.5 L875.3,510.4 L876.9,511.4 L878.5,512.4 L880.1,513.4 L881.7,514.4 L883.3,515.3 L884.9,516.3 M894.1,522.0 L895.7,523.0 L896.5,523.5 M905.3,528.9 L906.9,529.9 L907.3,530.2 M916.1,535.6 L917.7,536.6 L919.3,537.6 L920.9,538.5 L922.5,539.5 L924.1,540.5 L925.7,541.5 L927.3,542.5 L928.9,543.4 L930.5,544.4 L932.1,545.4 L933.7,546.4 L935.3,547.3 L936.9,548.3 L938.5,549.3 L940.1,550.2 L941.7,551.2 L943.3,552.1 L944.9,553.1 L946.5,554.1 L948.1,555.0 L948.5,555.2 M957.7,560.7 L959.3,561.6 L960.1,562.1 M968.9,567.1 L970.5,568.0 L971.3,568.5 M980.5,573.7 L982.1,574.5 L983.7,575.4 L985.3,576.3 L986.9,577.2 L988.5,578.0 L990.1,578.9 L991.7,579.8 L993.3,580.6 L994.9,581.5 L996.5,582.3 L998.1,583.2 L999.7,584.0 L1001.3,584.8 L1002.9,585.7 L1004.5,586.5 L1006.1,587.3 L1007.7,588.2 L1009.3,589.0 L1010.9,589.8 L1012.5,590.6 L1014.1,591.4 M1024.1,596.3 L1025.7,597.1 L1026.5,597.4 M1035.7,601.7 L1037.3,602.5 L1038.1,602.8 M1048.1,607.3 L1049.7,608.0 L1051.3,608.7 L1052.9,609.4 L1054.5,610.0 L1056.1,610.7 L1057.7,611.4 L1059.3,612.1 L1060.9,612.7 L1062.5,613.4 L1064.1,614.0 L1065.7,614.7 L1067.3,615.3 L1068.9,615.9 L1070.5,616.6 L1072.1,617.2 L1073.7,617.8 L1075.3,618.4 L1076.9,619.0 L1078.5,619.6 L1080.1,620.2 L1081.7,620.8 L1083.3,621.4 L1084.5,621.8 M1094.9,625.5 L1096.5,626.1 L1097.7,626.5 M1107.7,629.8 L1109.3,630.3 L1110.5,630.7 M1121.3,633.9 L1122.9,634.4 L1124.5,634.9 L1126.1,635.3 L1127.7,635.8 L1129.3,636.2 L1130.9,636.7 L1132.5,637.1 L1134.1,637.5 L1135.7,638.0 L1137.3,638.4 L1138.9,638.8 L1140.5,639.2 L1142.1,639.6 L1143.7,640.1 L1145.3,640.5 L1146.9,640.9 L1148.5,641.3 L1150.1,641.6 L1151.7,642.0 L1153.3,642.4 L1154.9,642.8 L1156.5,643.2 L1158.1,643.5 L1159.7,643.9 L1160.9,644.2 M1172.5,646.7 L1174.1,647.0 L1175.7,647.3 M1186.5,649.4 L1188.1,649.7 L1189.7,650.0 M1201.3,652.0 L1202.9,652.3 L1204.5,652.5 L1206.1,652.8 L1207.7,653.0 L1209.3,653.3 L1210.9,653.5 L1212.5,653.8 L1214.1,654.0 L1215.7,654.2 L1217.3,654.5 L1218.9,654.7 L1220.5,654.9 L1222.1,655.2 L1223.7,655.4 L1225.3,655.6 L1226.9,655.8 L1228.5,656.0 L1230.1,656.2 L1231.7,656.4 L1233.3,656.6 L1234.9,656.8 L1236.5,657.0 L1238.1,657.2 L1239.7,657.4 L1241.3,657.6 L1242.9,657.8 L1244.5,658.0 M1256.9,659.3 L1258.5,659.5 L1260.1,659.6 M1272.1,660.7 L1273.7,660.9 L1275.3,661.0 M1287.7,662.0 L1289.3,662.1 L1290.9,662.3 L1292.5,662.4 L1294.1,662.5 L1295.7,662.6 L1297.3,662.7 L1298.9,662.8 L1300.5,662.9 L1302.1,663.0 L1303.7,663.1 L1305.3,663.2 L1306.9,663.3 L1308.5,663.4 L1310.1,663.5 L1311.7,663.6 L1313.3,663.7 L1314.9,663.8 L1316.5,663.9 L1318.1,664.0 L1319.7,664.1 L1321.3,664.2 L1322.9,664.2 L1324.5,664.3 L1326.1,664.4 L1327.7,664.5 L1329.3,664.6 L1330.9,664.6 L1332.5,664.7 L1333.3,664.8 M1346.5,665.3 L1348.1,665.4 L1349.7,665.5 L1350.1,665.5 M1362.5,665.9 L1364.1,666.0 L1365.7,666.0 M1378.5,666.4 L1380.1,666.5 L1381.7,666.5 L1383.3,666.5 L1384.9,666.6 L1386.5,666.6 L1388.1,666.7 L1389.7,666.7 L1391.3,666.7 L1392.9,666.8 L1394.5,666.8 L1396.1,666.9 L1397.7,666.9 L1399.3,666.9 L1400.9,667.0 L1402.5,667.0 L1404.1,667.0 L1405.7,667.1 L1407.3,667.1 L1408.9,667.1 L1410.5,667.2 L1412.1,667.2 L1413.7,667.2 L1415.3,667.2 L1416.9,667.3 L1418.5,667.3 L1420.1,667.3 L1421.7,667.3 L1423.3,667.4 L1424.9,667.4 L1425.7,667.4 M1439.3,667.6 L1440.9,667.6 L1442.5,667.6 L1442.9,667.6 M1455.3,667.8 L1456.9,667.8 L1458.5,667.8 L1458.9,667.8 M1471.7,667.9 L1473.3,668.0 L1474.9,668.0 L1476.5,668.0 L1478.1,668.0 L1479.7,668.0 L1481.3,668.0 L1482.9,668.0 L1484.5,668.0 L1486.1,668.1 L1487.7,668.1 L1489.3,668.1 L1490.9,668.1 L1492.5,668.1 L1494.1,668.1 L1495.7,668.1 L1497.3,668.1 L1498.9,668.1 L1500.5,668.1 L1502.1,668.2 L1503.7,668.2 L1505.3,668.2 L1506.9,668.2 L1508.5,668.2 L1510.1,668.2 L1511.7,668.2 L1513.3,668.2 L1514.9,668.2 L1516.5,668.2 L1518.1,668.2 L1519.7,668.2 M1533.3,668.3 L1534.9,668.3 L1536.5,668.3 L1536.9,668.3 M1549.3,668.3 L1550.9,668.3 L1552.5,668.3 L1552.9,668.3 M1566.1,668.4 L1567.7,668.4 L1569.3,668.4 L1570.9,668.4 L1572.5,668.4 L1574.1,668.4 L1575.7,668.4 L1577.3,668.4 L1578.9,668.4 L1580.5,668.4 L1582.1,668.4 L1583.7,668.4 L1585.3,668.4 L1586.9,668.4 L1588.5,668.4 L1590.1,668.4 L1591.7,668.4 L1593.3,668.4 L1594.9,668.4 L1596.5,668.4 L1598.1,668.4 L1599.7,668.4 L1601.3,668.4 L1602.9,668.4 L1604.5,668.4 L1606.1,668.4 L1607.7,668.4 L1609.3,668.4 L1610.9,668.4 L1612.5,668.4 L1614.1,668.4 M1627.7,668.5 L1629.3,668.5 L1630.9,668.5 L1631.3,668.5 M1643.7,668.5 L1645.3,668.5 L1646.9,668.5 L1647.3,668.5 M1660.5,668.5 L1662.1,668.5 L1663.7,668.5 L1665.3,668.5 L1666.9,668.5 L1668.5,668.5 L1670.1,668.5 L1671.7,668.5 L1673.3,668.5 L1674.9,668.5 L1676.5,668.5 L1678.1,668.5 L1679.7,668.5 L1681.3,668.5 L1682.9,668.5 L1684.5,668.5 L1686.1,668.5 L1687.7,668.5 L1689.3,668.5 L1690.9,668.5 L1692.5,668.5 L1694.1,668.5 L1695.7,668.5 L1697.3,668.5 L1698.9,668.5 L1700.5,668.5 L1702.1,668.5 L1703.7,668.5 L1705.3,668.5 L1706.9,668.5 L1708.5,668.5 M1722.1,668.5 L1723.7,668.5 L1725.3,668.5 L1725.7,668.5 M1738.1,668.5 L1739.7,668.5 L1741.3,668.5 L1741.7,668.5 M1754.9,668.5 L1756.5,668.5 L1758.1,668.5 L1759.7,668.5 L1761.3,668.5 L1762.9,668.5 L1764.5,668.5 L1766.1,668.5 L1767.7,668.5 L1769.3,668.5 L1770.9,668.5 L1772.5,668.5 L1774.1,668.5 L1775.7,668.5 L1777.3,668.5 L1778.9,668.5 L1780.5,668.5 L1782.1,668.5 L1783.7,668.5 L1785.3,668.5 L1786.9,668.5 L1788.5,668.5 L1790.1,668.5 L1791.7,668.5 L1793.3,668.5 L1794.9,668.5 L1796.5,668.5 L1798.1,668.5 L1799.7,668.5 L1801.3,668.5 L1802.9,668.5 M1816.5,668.5 L1818.1,668.5 L1819.7,668.5 L1820.1,668.5 M1832.9,668.5 L1834.5,668.5 L1836.1,668.5 L1836.5,668.5 M1849.3,668.5 L1850.9,668.5 L1852.5,668.5 L1854.1,668.5 L1855.7,668.5 L1857.3,668.5 L1858.9,668.5 L1860.5,668.5 L1862.1,668.5 L1863.7,668.5 L1865.3,668.5 L1866.9,668.5 L1868.5,668.5 L1870.1,668.5 L1871.7,668.5 L1873.3,668.5 L1874.9,668.5 L1876.5,668.5 L1878.1,668.5 L1879.7,668.5 L1881.3,668.5 L1882.9,668.5 L1884.5,668.5 L1886.1,668.5 L1887.7,668.5 L1889.3,668.5 L1890.9,668.5 L1892.5,668.5 L1894.1,668.5 L1895.7,668.5 L1897.3,668.5 M1910.9,668.5 L1912.5,668.5 L1914.1,668.5 L1914.5,668.5 M1927.3,668.5 L1928.9,668.5 L1930.5,668.5 L1930.9,668.5 M1943.7,668.5 L1945.3,668.5 L1946.9,668.5 L1948.5,668.5 L1950.1,668.5 L1951.7,668.5 L1953.3,668.5 L1954.9,668.5 L1956.5,668.5 L1958.1,668.5 L1959.7,668.5 L1961.3,668.5 L1962.9,668.5 L1964.5,668.5 L1966.1,668.5 L1967.7,668.5 L1969.3,668.5 L1970.9,668.5 L1972.5,668.5 L1974.1,668.5 L1975.7,668.5 L1977.3,668.5 L1978.9,668.5 L1980.5,668.5 L1982.1,668.5 L1983.7,668.5 L1985.3,668.5 L1986.9,668.5 L1988.5,668.5 L1990.1,668.5 L1991.7,668.5 L1992.1,668.5 M2005.7,668.5 L2007.3,668.5 L2008.9,668.5 L2009.3,668.5 M2021.7,668.5 L2023.3,668.5 L2024.9,668.5 L2025.3,668.5 M2038.5,668.5 L2040.1,668.5 L2041.7,668.5 L2043.3,668.5 L2044.9,668.5 L2046.5,668.5 L2048.1,668.5 L2049.7,668.5 L2051.3,668.5 L2052.9,668.5 L2054.5,668.5 L2056.1,668.5 L2057.7,668.5 L2059.3,668.5 L2060.9,668.5 L2062.5,668.5 L2064.1,668.5 L2065.7,668.5 L2067.3,668.5 L2068.9,668.5 L2070.5,668.5 L2072.1,668.5 L2073.7,668.5 L2075.3,668.5 L2076.9,668.5 L2078.5,668.5 L2080.1,668.5 L2081.7,668.5 L2083.3,668.5 L2084.9,668.5 L2086.5,668.5 M2100.1,668.5 L2101.7,668.5 L2103.3,668.5 L2103.7,668.5 M2116.1,668.5 L2117.7,668.5 L2118.5,668.5" stroke="#ff5a2d" stroke-width="4.6"/>
<path d="M214.5,669.8 L216.5,669.8 L218.5,669.8 L220.5,669.8 L222.5,669.8 L224.5,669.8 L226.5,669.8 L228.5,669.8 L230.5,669.8 L232.5,669.8 L234.5,669.8 L236.5,669.8 L238.5,669.8 L240.5,669.8 L242.5,669.8 L244.5,669.8 L246.5,669.8 L248.5,669.8 L250.5,669.8 L252.5,669.8 L254.5,669.8 L256.5,669.8 L258.5,669.8 L259.0,669.8 M272.0,669.8 L274.0,669.8 L276.0,669.8 M288.0,669.8 L290.0,669.8 L292.0,669.8 L294.0,669.8 L296.0,669.8 L298.0,669.8 L300.0,669.8 L302.0,669.8 L304.0,669.8 L306.0,669.8 L308.0,669.8 L310.0,669.8 L312.0,669.8 L314.0,669.8 L316.0,669.8 L318.0,669.8 L320.0,669.8 L322.0,669.8 L324.0,669.8 L326.0,669.8 L328.0,669.8 L330.0,669.8 L332.0,669.8 L334.0,669.8 L336.0,669.8 L337.0,669.8 M350.0,669.8 L352.0,669.8 L354.0,669.8 M366.1,669.8 L367.7,669.8 L369.3,669.8 L370.9,669.8 L372.5,669.8 L374.1,669.8 L375.7,669.8 L377.3,669.8 L378.9,669.8 L380.5,669.8 L382.1,669.8 L383.7,669.8 L385.3,669.8 L386.9,669.8 L388.5,669.8 L390.1,669.8 L391.7,669.8 L393.3,669.8 L394.9,669.8 L396.5,669.8 L398.1,669.8 L399.7,669.8 L401.3,669.8 L402.9,669.8 L404.5,669.8 L406.1,669.8 L407.7,669.8 L409.3,669.8 L410.9,669.8 L412.5,669.8 L414.1,669.8 L415.3,669.8 M428.1,669.8 L429.7,669.8 L431.3,669.8 L432.1,669.8 M444.1,669.8 L445.7,669.8 L447.3,669.8 L448.9,669.8 L450.5,669.8 L452.1,669.8 L453.7,669.8 L455.3,669.8 L456.9,669.8 L458.5,669.8 L460.1,669.8 L461.7,669.8 L463.3,669.8 L464.9,669.8 L466.5,669.8 L468.1,669.8 L469.7,669.8 L471.3,669.8 L472.9,669.8 L474.5,669.8 L476.1,669.8 L477.7,669.8 L479.3,669.8 L480.9,669.8 L482.5,669.8 L484.1,669.8 L485.7,669.8 L487.3,669.8 L488.9,669.8 L490.5,669.8 L492.1,669.8 L493.3,669.8 M506.1,669.8 L507.7,669.8 L509.3,669.8 L510.1,669.8 M522.1,669.8 L523.7,669.8 L525.3,669.8 L526.9,669.8 L528.5,669.8 L530.1,669.8 L531.7,669.8 L533.3,669.8 L534.9,669.8 L536.5,669.8 L538.1,669.8 L539.7,669.8 L541.3,669.8 L542.9,669.8 L544.5,669.8 L546.1,669.8 L547.7,669.8 L549.3,669.8 L550.9,669.8 L552.5,669.8 L554.1,669.8 L555.7,669.8 L557.3,669.8 L558.9,669.8 L560.5,669.8 L562.1,669.8 L563.7,669.8 L565.3,669.8 L566.9,669.8 L568.5,669.8 L570.1,669.8 L571.3,669.8 M584.1,669.8 L585.7,669.8 L587.3,669.8 L588.1,669.8 M600.1,669.8 L601.7,669.8 L603.3,669.8 L604.9,669.8 L606.5,669.8 L608.1,669.8 L609.7,669.8 L611.3,669.8 L612.9,669.8 L614.5,669.8 L616.1,669.8 L617.7,669.8 L619.3,669.8 L620.9,669.8 L622.5,669.8 L624.1,669.8 L625.7,669.8 L627.3,669.8 L628.9,669.8 L630.5,669.8 L632.1,669.8 L633.7,669.8 L635.3,669.8 L636.9,669.8 L638.5,669.8 L640.1,669.8 L641.7,669.8 L643.3,669.8 L644.9,669.8 L646.5,669.8 L648.1,669.8 L649.3,669.8 M662.1,669.8 L663.7,669.8 L665.3,669.8 L666.1,669.8 M678.1,669.8 L679.7,669.8 L681.3,669.8 L682.9,669.8 L684.5,669.8 L686.1,669.8 L687.7,669.8 L689.3,669.8 L690.9,669.8 L692.5,669.8 L694.1,669.8 L695.7,669.8 L697.3,669.8 L698.9,669.8 L700.5,669.8 L702.1,669.8 L703.7,669.8 L705.3,669.8 L706.9,669.8 L708.5,669.8 L710.1,669.8 L711.7,669.8 L713.3,669.8 L714.9,669.8 L716.5,669.8 L718.1,669.8 L719.7,669.8 L721.3,669.8 L722.9,669.8 L724.5,669.8 L726.1,669.8 L727.3,669.8 M740.1,669.8 L741.7,669.8 L743.3,669.8 L744.1,669.8 M756.1,669.8 L757.7,669.8 L759.3,669.8 L760.9,669.8 L762.5,669.8 L764.1,669.8 L765.7,669.8 L767.3,669.8 L768.9,669.8 L770.5,669.8 L772.1,669.8 L773.7,669.8 L775.3,669.8 L776.9,669.8 L778.5,669.8 L780.1,669.8 L781.7,669.8 L783.3,669.8 L784.9,669.8 L786.5,669.8 L788.1,669.8 L789.7,669.8 L791.3,669.8 L792.9,669.8 L794.5,669.8 L796.1,669.8 L797.7,669.8 L799.3,669.8 L800.9,669.8 L802.5,669.8 L804.1,669.8 L805.3,669.8 M818.1,669.8 L819.7,669.8 L821.3,669.8 L822.1,669.8 M834.1,669.8 L835.7,669.8 L837.3,669.8 L838.9,669.8 L840.5,669.8 L842.1,669.8 L843.7,669.8 L845.3,669.8 L846.9,669.8 L848.5,669.8 L850.1,669.8 L851.7,669.8 L853.3,669.8 L854.9,669.8 L856.5,669.8 L858.1,669.8 L859.7,669.8 L861.3,669.8 L862.9,669.8 L864.5,669.8 L866.1,669.8 L867.7,669.8 L869.3,669.8 L870.9,669.8 L872.5,669.8 L874.1,669.8 L875.7,669.8 L877.3,669.8 L878.9,669.8 L880.5,669.8 L882.1,669.8 L883.3,669.7 M896.1,669.7 L897.7,669.7 L899.3,669.7 L900.1,669.7 M912.1,669.7 L913.7,669.7 L915.3,669.7 L916.9,669.7 L918.5,669.7 L920.1,669.7 L921.7,669.7 L923.3,669.7 L924.9,669.7 L926.5,669.7 L928.1,669.7 L929.7,669.7 L931.3,669.7 L932.9,669.7 L934.5,669.7 L936.1,669.7 L937.7,669.7 L939.3,669.7 L940.9,669.7 L942.5,669.7 L944.1,669.7 L945.7,669.7 L947.3,669.7 L948.9,669.7 L950.5,669.7 L952.1,669.6 L953.7,669.6 L955.3,669.6 L956.9,669.6 L958.5,669.6 L960.1,669.6 L961.3,669.6 M974.1,669.6 L975.7,669.6 L977.3,669.6 L978.1,669.6 M990.1,669.5 L991.7,669.5 L993.3,669.5 L994.9,669.5 L996.5,669.5 L998.1,669.5 L999.7,669.5 L1001.3,669.5 L1002.9,669.5 L1004.5,669.5 L1006.1,669.5 L1007.7,669.4 L1009.3,669.4 L1010.9,669.4 L1012.5,669.4 L1014.1,669.4 L1015.7,669.4 L1017.3,669.4 L1018.9,669.4 L1020.5,669.4 L1022.1,669.4 L1023.7,669.4 L1025.3,669.3 L1026.9,669.3 L1028.5,669.3 L1030.1,669.3 L1031.7,669.3 L1033.3,669.3 L1034.9,669.3 L1036.5,669.3 L1038.1,669.2 L1038.9,669.2 M1051.7,669.1 L1053.3,669.1 L1054.9,669.1 L1055.7,669.1 M1067.7,669.0 L1069.3,669.0 L1070.9,668.9 L1072.5,668.9 L1074.1,668.9 L1075.7,668.9 L1077.3,668.9 L1078.9,668.8 L1080.5,668.8 L1082.1,668.8 L1083.7,668.8 L1085.3,668.8 L1086.9,668.7 L1088.5,668.7 L1090.1,668.7 L1091.7,668.7 L1093.3,668.6 L1094.9,668.6 L1096.5,668.6 L1098.1,668.6 L1099.7,668.5 L1101.3,668.5 L1102.9,668.5 L1104.5,668.5 L1106.1,668.4 L1107.7,668.4 L1109.3,668.4 L1110.9,668.3 L1112.5,668.3 L1114.1,668.3 L1115.7,668.2 L1116.1,668.2 M1128.9,668.0 L1130.5,667.9 L1132.1,667.9 L1132.9,667.9 M1144.5,667.6 L1146.1,667.5 L1147.7,667.5 L1149.3,667.5 L1150.9,667.4 L1152.5,667.4 L1154.1,667.3 L1155.7,667.3 L1157.3,667.2 L1158.9,667.2 L1160.5,667.1 L1162.1,667.1 L1163.7,667.0 L1165.3,667.0 L1166.9,666.9 L1168.5,666.9 L1170.1,666.8 L1171.7,666.7 L1173.3,666.7 L1174.9,666.6 L1176.5,666.6 L1178.1,666.5 L1179.7,666.4 L1181.3,666.4 L1182.9,666.3 L1184.5,666.3 L1186.1,666.2 L1187.7,666.1 L1189.3,666.1 L1190.9,666.0 L1192.1,665.9 M1204.5,665.4 L1206.1,665.3 L1207.7,665.2 L1208.5,665.2 M1220.1,664.6 L1221.7,664.5 L1223.3,664.4 L1224.9,664.3 L1226.5,664.2 L1228.1,664.1 L1229.7,664.0 L1231.3,663.9 L1232.9,663.8 L1234.5,663.7 L1236.1,663.6 L1237.7,663.5 L1239.3,663.4 L1240.9,663.3 L1242.5,663.2 L1244.1,663.1 L1245.7,662.9 L1247.3,662.8 L1248.9,662.7 L1250.5,662.6 L1252.1,662.5 L1253.7,662.4 L1255.3,662.2 L1256.9,662.1 L1258.5,662.0 L1260.1,661.9 L1261.7,661.8 L1263.3,661.6 L1264.9,661.5 L1266.5,661.4 M1278.5,660.3 L1280.1,660.2 L1281.7,660.0 L1282.5,660.0 M1293.3,658.9 L1294.9,658.7 L1296.5,658.6 L1298.1,658.4 L1299.7,658.2 L1301.3,658.1 L1302.9,657.9 L1304.5,657.7 L1306.1,657.5 L1307.7,657.4 L1309.3,657.2 L1310.9,657.0 L1312.5,656.8 L1314.1,656.6 L1315.7,656.4 L1317.3,656.2 L1318.9,656.0 L1320.5,655.8 L1322.1,655.6 L1323.7,655.4 L1325.3,655.2 L1326.9,655.0 L1328.5,654.8 L1330.1,654.6 L1331.7,654.4 L1333.3,654.2 L1334.9,654.0 L1336.5,653.8 L1338.1,653.5 M1349.7,651.9 L1351.3,651.7 L1352.9,651.4 L1353.3,651.4 M1364.1,649.7 L1365.7,649.4 L1367.3,649.1 L1368.9,648.9 L1370.5,648.6 L1372.1,648.3 L1373.7,648.1 L1375.3,647.8 L1376.9,647.5 L1378.5,647.2 L1380.1,647.0 L1381.7,646.7 L1383.3,646.4 L1384.9,646.1 L1386.5,645.8 L1388.1,645.5 L1389.7,645.2 L1391.3,644.9 L1392.9,644.6 L1394.5,644.3 L1396.1,644.0 L1397.7,643.7 L1399.3,643.4 L1400.9,643.1 L1402.5,642.8 L1404.1,642.5 L1405.7,642.2 L1406.9,641.9 M1418.1,639.6 L1419.7,639.3 L1421.3,638.9 L1421.7,638.8 M1431.7,636.6 L1433.3,636.3 L1434.9,635.9 L1436.5,635.6 L1438.1,635.2 L1439.7,634.8 L1441.3,634.5 L1442.9,634.1 L1444.5,633.7 L1446.1,633.3 L1447.7,632.9 L1449.3,632.6 L1450.9,632.2 L1452.5,631.8 L1454.1,631.4 L1455.7,631.0 L1457.3,630.6 L1458.9,630.2 L1460.5,629.8 L1462.1,629.4 L1463.7,629.0 L1465.3,628.6 L1466.9,628.2 L1468.5,627.8 L1470.1,627.4 L1471.7,627.0 L1472.9,626.7 M1483.7,623.9 L1485.3,623.4 L1486.9,623.0 M1496.5,620.4 L1498.1,620.0 L1499.7,619.5 L1501.3,619.1 L1502.9,618.6 L1504.5,618.2 L1506.1,617.8 L1507.7,617.3 L1509.3,616.9 L1510.9,616.4 L1512.5,616.0 L1514.1,615.5 L1515.7,615.1 L1517.3,614.6 L1518.9,614.1 L1520.5,613.7 L1522.1,613.2 L1523.7,612.8 L1525.3,612.3 L1526.9,611.8 L1528.5,611.4 L1530.1,610.9 L1531.7,610.5 L1533.3,610.0 L1534.9,609.5 L1536.5,609.1 M1547.3,605.9 L1548.9,605.4 L1550.5,605.0 M1560.1,602.1 L1561.7,601.6 L1563.3,601.2 L1564.9,600.7 L1566.5,600.2 L1568.1,599.8 L1569.7,599.3 L1571.3,598.8 L1572.9,598.3 L1574.5,597.9 L1576.1,597.4 L1577.7,596.9 L1579.3,596.5 L1580.9,596.0 L1582.5,595.5 L1584.1,595.0 L1585.7,594.6 L1587.3,594.1 L1588.9,593.6 L1590.5,593.2 L1592.1,592.7 L1593.7,592.2 L1595.3,591.8 L1596.9,591.3 L1598.5,590.9 L1599.7,590.5 M1610.5,587.4 L1612.1,587.0 L1613.7,586.5 M1623.3,583.9 L1624.9,583.4 L1626.5,583.0 L1628.1,582.6 L1629.7,582.1 L1631.3,581.7 L1632.9,581.3 L1634.5,580.8 L1636.1,580.4 L1637.7,580.0 L1639.3,579.6 L1640.9,579.2 L1642.5,578.8 L1644.1,578.3 L1645.7,577.9 L1647.3,577.5 L1648.9,577.1 L1650.5,576.7 L1652.1,576.3 L1653.7,575.9 L1655.3,575.5 L1656.9,575.1 L1658.5,574.8 L1660.1,574.4 L1661.7,574.0 L1663.3,573.6 L1664.1,573.4 M1675.3,570.9 L1676.9,570.5 L1678.5,570.2 M1688.9,568.0 L1690.5,567.7 L1692.1,567.4 L1693.7,567.1 L1695.3,566.8 L1696.9,566.5 L1698.5,566.2 L1700.1,565.9 L1701.7,565.6 L1703.3,565.3 L1704.9,565.0 L1706.5,564.7 L1708.1,564.5 L1709.7,564.2 L1711.3,563.9 L1712.9,563.7 L1714.5,563.4 L1716.1,563.1 L1717.7,562.9 L1719.3,562.7 L1720.9,562.4 L1722.5,562.2 L1724.1,562.0 L1725.7,561.7 L1727.3,561.5 L1728.9,561.3 L1730.5,561.1 L1732.1,560.9 M1744.1,559.5 L1745.7,559.3 L1747.3,559.2 L1747.7,559.1 M1758.9,558.2 L1760.5,558.0 L1762.1,557.9 L1763.7,557.8 L1765.3,557.7 L1766.9,557.6 L1768.5,557.5 L1770.1,557.4 L1771.7,557.4 L1773.3,557.3 L1774.9,557.2 L1776.5,557.2 L1778.1,557.1 L1779.7,557.0 L1781.3,557.0 L1782.9,557.0 L1784.5,556.9 L1786.1,556.9 L1787.7,556.9 L1789.3,556.8 L1790.9,556.8 L1792.5,556.8 L1794.1,556.8 L1795.7,556.8 L1797.3,556.8 L1798.9,556.8 L1800.5,556.8 L1802.1,556.9 L1803.7,556.9 L1805.3,556.9 L1806.9,556.9 M1819.3,557.4 L1820.9,557.5 L1822.5,557.6 L1823.3,557.6 M1834.5,558.4 L1836.1,558.6 L1837.7,558.7 L1839.3,558.8 L1840.9,559.0 L1842.5,559.1 L1844.1,559.3 L1845.7,559.5 L1847.3,559.6 L1848.9,559.8 L1850.5,560.0 L1852.1,560.2 L1853.7,560.4 L1855.3,560.6 L1856.9,560.8 L1858.5,561.0 L1860.1,561.2 L1861.7,561.4 L1863.3,561.6 L1864.9,561.8 L1866.5,562.0 L1868.1,562.3 L1869.7,562.5 L1871.3,562.7 L1872.9,563.0 L1874.5,563.2 L1876.1,563.5 L1877.7,563.8 L1879.3,564.0 M1890.5,566.0 L1892.1,566.3 L1893.7,566.6 L1894.1,566.7 M1904.5,568.7 L1906.1,569.0 L1907.7,569.4 L1909.3,569.7 L1910.9,570.1 L1912.5,570.4 L1914.1,570.8 L1915.7,571.1 L1917.3,571.5 L1918.9,571.8 L1920.5,572.2 L1922.1,572.5 L1923.7,572.9 L1925.3,573.3 L1926.9,573.7 L1928.5,574.0 L1930.1,574.4 L1931.7,574.8 L1933.3,575.2 L1934.9,575.6 L1936.5,576.0 L1938.1,576.4 L1939.7,576.8 L1941.3,577.2 L1942.9,577.6 L1944.5,578.0 L1945.7,578.3 M1956.5,581.1 L1958.1,581.5 L1959.7,582.0 M1969.7,584.7 L1971.3,585.1 L1972.9,585.6 L1974.5,586.0 L1976.1,586.5 L1977.7,586.9 L1979.3,587.4 L1980.9,587.8 L1982.5,588.3 L1984.1,588.7 L1985.7,589.2 L1987.3,589.7 L1988.9,590.1 L1990.5,590.6 L1992.1,591.0 L1993.7,591.5 L1995.3,592.0 L1996.9,592.4 L1998.5,592.9 L2000.1,593.4 L2001.7,593.8 L2003.3,594.3 L2004.9,594.8 L2006.5,595.2 L2008.1,595.7 L2009.3,596.0 M2020.1,599.2 L2021.7,599.7 L2023.3,600.2 M2032.9,603.0 L2034.5,603.5 L2036.1,603.9 L2037.7,604.4 L2039.3,604.9 L2040.9,605.4 L2042.5,605.8 L2044.1,606.3 L2045.7,606.8 L2047.3,607.2 L2048.9,607.7 L2050.5,608.2 L2052.1,608.6 L2053.7,609.1 L2055.3,609.6 L2056.9,610.0 L2058.5,610.5 L2060.1,611.0 L2061.7,611.4 L2063.3,611.9 L2064.9,612.4 L2066.5,612.8 L2068.1,613.3 L2069.7,613.7 L2071.3,614.2 L2072.5,614.5 M2083.3,617.6 L2084.9,618.0 L2086.5,618.5 M2096.5,621.2 L2098.1,621.7 L2099.7,622.1 L2101.3,622.5 L2102.9,623.0 L2104.5,623.4 L2106.1,623.8 L2107.7,624.2 L2109.3,624.7 L2110.9,625.1 L2112.5,625.5 L2114.1,625.9 L2115.7,626.3 L2117.3,626.7 L2118.5,627.1" stroke="#e9599f" stroke-width="4.6"/>
<path d="M214.5,996.0 L216.5,995.9 L218.5,995.7 L220.5,995.6 L222.5,995.4 L224.5,995.2 L226.5,995.0 L228.5,994.8 L230.5,994.6 L232.5,994.4 L234.5,994.2 L236.5,993.9 L238.5,993.7 L240.5,993.4 L242.5,993.2 L244.5,992.9 L246.5,992.6 L248.5,992.4 L250.5,992.1 L252.5,991.8 L254.5,991.4 L256.5,991.1 L258.5,990.8 L260.5,990.5 L262.5,990.1 L264.5,989.8 L266.5,989.4 L268.5,989.0 L270.5,988.7 L272.5,988.3 L274.5,987.9 L276.5,987.5 L278.5,987.1 L280.5,986.7 L282.5,986.3 L284.5,985.8 L286.5,985.4 L288.5,985.0 L290.5,984.5 L292.5,984.1 L294.5,983.6 L296.5,983.1 L298.5,982.7 L300.5,982.2 L302.5,981.7 L304.5,981.2 L306.5,980.7 L308.5,980.2 L310.5,979.7 L312.5,979.2 L314.5,978.7 L316.5,978.1 L318.5,977.6 L320.5,977.1 L322.5,976.5 L324.5,976.0 L326.5,975.4 L328.5,974.9 L330.5,974.3 L332.5,973.8 L334.5,973.2 L336.5,972.6 L338.5,972.0 L340.5,971.4 L342.5,970.8 L344.5,970.2 L346.5,969.6 L348.5,969.0 L350.5,968.4 L352.5,967.8 L354.5,967.2 L356.5,966.6 L358.5,965.9 L360.5,965.3 L362.5,964.7 L364.5,964.0 L366.5,963.4 L368.5,962.8 L370.5,962.1 L372.5,961.5 L374.5,960.8 L376.5,960.2 L378.5,959.5 L380.5,958.8 L382.5,958.2 L384.5,957.5 L386.5,956.8 L388.5,956.1 L390.5,955.5 L392.5,954.8 L394.5,954.1 L396.5,953.4 L398.5,952.7 L400.5,952.0 L402.5,951.4 L404.5,950.7 L406.5,950.0 L408.5,949.3 L410.5,948.6 L412.5,947.9 L414.5,947.2 L416.5,946.5 L418.5,945.8 L420.5,945.0 L422.5,944.3 L424.5,943.6 L426.5,942.9 L428.5,942.2 L430.5,941.5 L432.5,940.8 L434.5,940.1 L436.5,939.3 L438.5,938.6 L440.5,937.9 L442.5,937.2 L444.5,936.5 L446.5,935.8 L448.5,935.0 L450.5,934.3 L452.5,933.6 L454.5,932.9 L456.5,932.2 L458.5,931.5 L460.5,930.7 L462.5,930.0 L464.5,929.3 L466.5,928.6 L468.5,927.9 L470.5,927.2 L472.5,926.4 L474.5,925.7 L476.5,925.0 L478.5,924.3 L480.5,923.6 L482.5,922.9 L484.5,922.2 L486.5,921.5 L488.5,920.8 L490.5,920.1 L492.5,919.4 L494.5,918.7 L496.5,918.0 L498.5,917.3 L500.5,916.6 L502.5,915.9 L504.5,915.2 L506.5,914.5 L508.5,913.8 L510.5,913.1 L512.5,912.4 L514.5,911.8 L516.5,911.1 L518.5,910.4 L520.5,909.7 L522.5,909.1 L524.5,908.4 L526.5,907.7 L528.5,907.1 L530.5,906.4 L532.5,905.8 L534.5,905.1 L536.5,904.5 L538.5,903.8 L540.5,903.2 L542.5,902.5 L544.5,901.9 L546.5,901.3 L548.5,900.6 L550.5,900.0 L552.5,899.4 L554.5,898.8 L556.5,898.1 L558.5,897.5 L560.5,896.9 L562.5,896.3 L564.5,895.7 L566.5,895.1 L568.5,894.5 L570.5,893.9 L572.5,893.3 L574.5,892.7 L576.5,892.2 L578.5,891.6 L580.5,891.0 L582.5,890.4 L584.5,889.9 L586.5,889.3 L588.5,888.8 L590.5,888.2 L592.5,887.6 L594.5,887.1 L596.5,886.6 L598.5,886.0 L600.5,885.5 L602.5,885.0 L604.5,884.4 L606.5,883.9 L608.5,883.4 L610.5,882.9 L612.5,882.4 L614.5,881.8 L616.5,881.3 L618.5,880.9 L620.5,880.4 L622.5,879.9 L624.5,879.4 L626.5,878.9 L628.5,878.4 L630.5,878.0 L632.5,877.5 L634.5,877.0 L636.5,876.6 L638.5,876.1 L640.5,875.7 L642.5,875.2 L644.5,874.8 L646.5,874.4 L648.5,873.9 L650.5,873.5 L652.5,873.1 L654.5,872.7 L656.5,872.3 L658.5,871.9 L660.5,871.5 L662.5,871.1 L664.5,870.7 L666.5,870.3 L668.5,869.9 L670.5,869.5 L672.5,869.2 L674.5,868.8 L676.5,868.5 L678.5,868.1 L680.5,867.8 L682.5,867.4 L684.5,867.1 L686.5,866.7 L688.5,866.4 L690.5,866.1 L692.5,865.8 L694.5,865.5 L696.5,865.2 L698.5,864.9 L700.5,864.6 L702.5,864.3 L704.5,864.0 L706.5,863.7 L708.5,863.5 L710.5,863.2 L712.5,863.0 L714.5,862.7 L716.5,862.5 L718.5,862.2 L720.5,862.0 L722.5,861.8 L724.5,861.5 L726.5,861.3 L728.5,861.1 L730.5,860.9 L732.5,860.7 L734.5,860.5 L736.5,860.3 L738.5,860.2 L740.5,860.0 L742.5,859.8 L744.5,859.7 L746.5,859.5 L748.5,859.4 L750.5,859.2 L752.5,859.1 L754.5,859.0 L756.5,858.8 L758.5,858.7 L760.5,858.6 L762.5,858.5 L764.5,858.4 L766.5,858.3 L768.5,858.3 L770.5,858.2 L772.5,858.1 L774.5,858.1 L776.5,858.0 L778.5,858.0 L780.5,857.9 L782.5,857.9 L784.5,857.9 L786.5,857.8 L788.5,857.8 L790.5,857.8 L792.5,857.8 L794.5,857.8 L796.5,857.9 L798.5,857.9 L800.5,857.9 L802.5,857.9 L804.5,858.0 L806.5,858.0 L808.5,858.1 L810.5,858.2 L812.5,858.3 L814.5,858.3 L816.5,858.4 L818.5,858.5 L820.5,858.6 L822.5,858.7 L824.5,858.9 L826.5,859.0 L828.5,859.1 L830.5,859.3 L832.5,859.4 L834.5,859.6 L836.5,859.7 L838.5,859.9 L840.5,860.1 L842.5,860.3 L844.5,860.5 L846.5,860.7 L848.5,860.9 L850.5,861.1 L852.5,861.4 L854.5,861.6 L856.5,861.9 L858.5,862.1 L860.5,862.4 L862.5,862.6 L864.5,862.9 L866.5,863.2 L868.5,863.5 L870.5,863.8 L872.5,864.1 L874.5,864.4 L876.5,864.8 L878.5,865.1 L880.5,865.5 L882.5,865.8 L884.5,866.2 L886.5,866.5 L888.5,866.9 L890.5,867.3 L892.5,867.7 L894.5,868.1 L896.5,868.5 L898.5,869.0 L900.5,869.4 L902.5,869.8 L904.5,870.3 L906.5,870.7 L908.5,871.2 L910.5,871.7 L912.5,872.2 L914.5,872.7 L916.5,873.2 L918.5,873.7 L920.5,874.2 L922.5,874.7 L924.5,875.2 L926.5,875.7 L928.5,876.3 L930.5,876.8 L932.5,877.4 L934.5,877.9 L936.5,878.5 L938.5,879.1 L940.5,879.6 L942.5,880.2 L944.5,880.8 L946.5,881.4 L948.5,881.9 L950.5,882.5 L952.5,883.1 L954.5,883.7 L956.5,884.3 L958.5,884.9 L960.5,885.5 L962.5,886.1 L964.5,886.7 L966.5,887.3 L968.5,887.9 L970.5,888.5 L972.5,889.1 L974.5,889.7 L976.5,890.3 L978.5,890.9 L980.5,891.5 L982.5,892.1 L984.5,892.7 L986.5,893.3 L988.5,893.9 L990.5,894.5 L992.5,895.1 L994.5,895.7 L996.5,896.3 L998.5,896.9 L1000.5,897.5 L1002.5,898.0 L1004.5,898.6 L1006.5,899.2 L1008.5,899.7 L1010.5,900.3 L1012.5,900.9 L1014.5,901.4 L1016.5,902.0 L1018.5,902.5 L1020.5,903.1 L1022.5,903.6 L1024.5,904.2 L1026.5,904.7 L1028.5,905.2 L1030.5,905.7 L1032.5,906.3 L1034.5,906.8 L1036.5,907.3 L1038.5,907.8 L1040.5,908.3 L1042.5,908.8 L1044.5,909.3 L1046.5,909.8 L1048.5,910.3 L1050.5,910.8 L1052.5,911.3 L1054.5,911.8 L1056.5,912.2 L1058.5,912.7 L1060.5,913.2 L1062.5,913.6 L1064.5,914.1 L1066.5,914.5 L1068.5,915.0 L1070.5,915.4 L1072.5,915.9 L1074.5,916.3 L1076.5,916.7 L1078.5,917.2 L1080.5,917.6 L1082.5,918.0 L1084.5,918.4 L1086.5,918.8 L1088.5,919.2 L1090.5,919.6 L1092.5,920.0 L1094.5,920.4 L1096.5,920.8 L1098.5,921.2 L1100.5,921.6 L1102.5,922.0 L1104.5,922.3 L1106.5,922.7 L1108.5,923.1 L1110.5,923.4 L1112.5,923.8 L1114.5,924.1 L1116.5,924.5 L1118.5,924.8 L1120.5,925.2 L1122.5,925.5 L1124.5,925.9 L1126.5,926.2 L1128.5,926.6 L1130.5,926.9 L1132.5,927.2 L1134.5,927.6 L1136.5,927.9 L1138.5,928.2 L1140.5,928.5 L1142.5,928.9 L1144.5,929.2 L1146.5,929.5 L1148.5,929.8 L1150.5,930.2 L1152.5,930.5 L1154.5,930.8 L1156.5,931.1 L1158.5,931.4 L1160.5,931.8 L1162.5,932.1 L1164.5,932.4 L1166.5,932.7 L1168.5,933.0 L1170.5,933.4 L1172.5,933.7 L1174.5,934.0 L1176.5,934.3 L1178.5,934.7 L1180.5,935.0 L1182.5,935.3 L1184.5,935.6 L1186.5,936.0 L1188.5,936.3 L1190.5,936.6 L1192.5,937.0 L1194.5,937.3 L1196.5,937.6 L1198.5,938.0 L1200.5,938.3 L1202.5,938.7 L1204.5,939.0 L1206.5,939.3 L1208.5,939.7 L1210.5,940.1 L1212.5,940.4 L1214.5,940.8 L1216.5,941.1 L1218.5,941.5 L1220.5,941.9 L1222.5,942.2 L1224.5,942.6 L1226.5,943.0 L1228.5,943.4 L1230.5,943.8 L1232.5,944.2 L1234.5,944.6 L1236.5,945.0 L1238.5,945.4 L1240.5,945.8 L1242.5,946.2 L1244.5,946.6 L1246.5,947.1 L1248.5,947.5 L1250.5,947.9 L1252.5,948.4 L1254.5,948.8 L1256.5,949.3 L1258.5,949.7 L1260.5,950.2 L1262.5,950.6 L1264.5,951.1 L1266.5,951.6 L1268.5,952.0 L1270.5,952.5 L1272.5,953.0 L1274.5,953.4 L1276.5,953.9 L1278.5,954.4 L1280.5,954.9 L1282.5,955.4 L1284.5,955.9 L1286.5,956.4 L1288.5,956.9 L1290.5,957.3 L1292.5,957.8 L1294.5,958.3 L1296.5,958.8 L1298.5,959.3 L1300.5,959.8 L1302.5,960.3 L1304.5,960.8 L1306.5,961.3 L1308.5,961.8 L1310.5,962.3 L1312.5,962.8 L1314.5,963.4 L1316.5,963.9 L1318.5,964.4 L1320.5,964.9 L1322.5,965.4 L1324.5,965.9 L1326.5,966.4 L1328.5,966.9 L1330.5,967.4 L1332.5,967.9 L1334.5,968.3 L1336.5,968.8 L1338.5,969.3 L1340.5,969.8 L1342.5,970.3 L1344.5,970.8 L1346.5,971.3 L1348.5,971.8 L1350.5,972.3 L1352.5,972.7 L1354.5,973.2 L1356.5,973.7 L1358.5,974.2 L1360.5,974.7 L1362.5,975.1 L1364.5,975.6 L1366.5,976.1 L1368.5,976.6 L1370.5,977.1 L1372.5,977.5 L1374.5,978.0 L1376.5,978.5 L1378.5,979.0 L1380.5,979.5 L1382.5,979.9 L1384.5,980.4 L1386.5,980.9 L1388.5,981.4 L1390.5,981.9 L1392.5,982.3 L1394.5,982.8 L1396.5,983.3 L1398.5,983.8 L1400.5,984.3 L1402.5,984.8 L1404.5,985.3 L1406.5,985.7 L1408.5,986.2 L1410.5,986.7 L1412.5,987.2 L1414.5,987.7 L1416.5,988.2 L1418.5,988.7 L1420.5,989.2 L1422.5,989.7 L1424.5,990.2 L1426.5,990.7 L1428.5,991.2 L1430.5,991.7 L1432.5,992.2 L1434.5,992.8 L1436.5,993.3 L1438.5,993.8 L1440.5,994.3 L1442.5,994.8 L1444.5,995.4 L1446.5,995.9 L1448.5,996.4 L1450.5,996.9 L1452.5,997.5 L1454.5,998.0 L1456.5,998.6 L1458.5,999.1 L1460.5,999.7 L1462.5,1000.2 L1464.5,1000.8 L1466.5,1001.3 L1468.5,1001.9 L1470.5,1002.4 L1472.5,1003.0 L1474.5,1003.6 L1476.5,1004.2 L1478.5,1004.7 L1480.5,1005.3 L1482.5,1005.9 L1484.5,1006.5 L1486.5,1007.1 L1488.5,1007.7 L1490.5,1008.3 L1492.5,1008.9 L1494.5,1009.5 L1496.5,1010.1 L1498.5,1010.7 L1500.5,1011.3 L1502.5,1012.0 L1504.5,1012.6 L1506.5,1013.2 L1508.5,1013.8 L1510.5,1014.5 L1512.5,1015.1 L1514.5,1015.7 L1516.5,1016.4 L1518.5,1017.0 L1520.5,1017.6 L1522.5,1018.3 L1524.5,1018.9 L1526.5,1019.6 L1528.5,1020.2 L1530.5,1020.9 L1532.5,1021.6 L1534.5,1022.2 L1536.5,1022.9 L1538.5,1023.5 L1540.5,1024.2 L1542.5,1024.9 L1544.5,1025.5 L1546.5,1026.2 L1548.5,1026.9 L1550.5,1027.6 L1552.5,1028.3 L1554.5,1028.9 L1556.5,1029.6 L1558.5,1030.3 L1560.5,1031.0 L1562.5,1031.7 L1564.5,1032.4 L1566.5,1033.1 L1568.5,1033.7 L1570.5,1034.4 L1572.5,1035.1 L1574.5,1035.8 L1576.5,1036.5 L1578.5,1037.2 L1580.5,1037.9 L1582.5,1038.6 L1584.5,1039.3 L1586.5,1040.0 L1588.5,1040.7 L1590.5,1041.5 L1592.5,1042.2 L1594.5,1042.9 L1596.5,1043.6 L1598.5,1044.3 L1600.5,1045.0 L1602.5,1045.7 L1604.5,1046.4 L1606.5,1047.1 L1608.5,1047.9 L1610.5,1048.6 L1612.5,1049.3 L1614.5,1050.0 L1616.5,1050.7 L1618.5,1051.4 L1620.5,1052.2 L1622.5,1052.9 L1624.5,1053.6 L1626.5,1054.3 L1628.5,1055.0 L1630.5,1055.7 L1632.5,1056.5 L1634.5,1057.2 L1636.5,1057.9 L1638.5,1058.6 L1640.5,1059.3 L1642.5,1060.1 L1644.5,1060.8 L1646.5,1061.5 L1648.5,1062.2 L1650.5,1062.9 L1652.5,1063.7 L1654.5,1064.4 L1656.5,1065.1 L1658.5,1065.8 L1660.5,1066.5 L1662.5,1067.3 L1664.5,1068.0 L1666.5,1068.7 L1668.5,1069.4 L1670.5,1070.1 L1672.5,1070.8 L1674.5,1071.5 L1676.5,1072.3 L1678.5,1073.0 L1680.5,1073.7 L1682.5,1074.4 L1684.5,1075.1 L1686.5,1075.8 L1688.5,1076.5 L1690.5,1077.2 L1692.5,1077.9 L1694.5,1078.6 L1696.5,1079.3 L1698.5,1080.0 L1700.5,1080.7 L1702.5,1081.4 L1704.5,1082.1 L1706.5,1082.8 L1708.5,1083.5 L1710.5,1084.2 L1712.5,1084.9 L1714.5,1085.6 L1716.5,1086.3 L1718.5,1086.9 L1720.5,1087.6 L1722.5,1088.3 L1724.5,1089.0 L1726.5,1089.7 L1728.5,1090.3 L1730.5,1091.0 L1732.5,1091.7 L1734.5,1092.3 L1736.5,1093.0 L1738.5,1093.7 L1740.5,1094.3 L1742.5,1095.0 L1744.5,1095.7 L1746.5,1096.3 L1748.5,1097.0 L1750.5,1097.6 L1752.5,1098.3 L1754.5,1098.9 L1756.5,1099.6 L1758.5,1100.2 L1760.5,1100.8 L1762.5,1101.5 L1764.5,1102.1 L1766.5,1102.7 L1768.5,1103.4 L1770.5,1104.0 L1772.5,1104.6 L1774.5,1105.2 L1776.5,1105.8 L1778.5,1106.5 L1780.5,1107.1 L1782.5,1107.7 L1784.5,1108.3 L1786.5,1108.9 L1788.5,1109.5 L1790.5,1110.1 L1792.5,1110.7 L1794.5,1111.2 L1796.5,1111.8 L1798.5,1112.4 L1800.5,1113.0 L1802.5,1113.6 L1804.5,1114.1 L1806.5,1114.7 L1808.5,1115.2 L1810.5,1115.8 L1812.5,1116.4 L1814.5,1116.9 L1816.5,1117.5 L1818.5,1118.0 L1820.5,1118.5 L1822.5,1119.1 L1824.5,1119.6 L1826.5,1120.1 L1828.5,1120.6 L1830.5,1121.2 L1832.5,1121.7 L1834.5,1122.2 L1836.5,1122.7 L1838.5,1123.2 L1840.5,1123.7 L1842.5,1124.2 L1844.5,1124.7 L1846.5,1125.1 L1848.5,1125.6 L1850.5,1126.1 L1852.5,1126.6 L1854.5,1127.0 L1856.5,1127.5 L1858.5,1127.9 L1860.5,1128.4 L1862.5,1128.8 L1864.5,1129.3 L1866.5,1129.7 L1868.5,1130.1 L1870.5,1130.6 L1872.5,1131.0 L1874.5,1131.4 L1876.5,1131.8 L1878.5,1132.2 L1880.5,1132.6 L1882.5,1133.0 L1884.5,1133.4 L1886.5,1133.8 L1888.5,1134.2 L1890.5,1134.6 L1892.5,1134.9 L1894.5,1135.3 L1896.5,1135.7 L1898.5,1136.0 L1900.5,1136.4 L1902.5,1136.7 L1904.5,1137.1 L1906.5,1137.4 L1908.5,1137.8 L1910.5,1138.1 L1912.5,1138.4 L1914.5,1138.7 L1916.5,1139.1 L1918.5,1139.4 L1920.5,1139.7 L1922.5,1140.0 L1924.5,1140.3 L1926.5,1140.6 L1928.5,1140.9 L1930.5,1141.1 L1932.5,1141.4 L1934.5,1141.7 L1936.5,1142.0 L1938.5,1142.2 L1940.5,1142.5 L1942.5,1142.7 L1944.5,1143.0 L1946.5,1143.2 L1948.5,1143.5 L1950.5,1143.7 L1952.5,1144.0 L1954.5,1144.2 L1956.5,1144.4 L1958.5,1144.6 L1960.5,1144.8 L1962.5,1145.1 L1964.5,1145.3 L1966.5,1145.5 L1968.5,1145.7 L1970.5,1145.8 L1972.5,1146.0 L1974.5,1146.2 L1976.5,1146.4 L1978.5,1146.6 L1980.5,1146.7 L1982.5,1146.9 L1984.5,1147.1 L1986.5,1147.2 L1988.5,1147.4 L1990.5,1147.5 L1992.5,1147.6 L1994.5,1147.8 L1996.5,1147.9 L1998.5,1148.0 L2000.5,1148.2 L2002.5,1148.3 L2004.5,1148.4 L2006.5,1148.5 L2008.5,1148.6 L2010.5,1148.7 L2012.5,1148.8 L2014.5,1148.9 L2016.5,1149.0 L2018.5,1149.0 L2020.5,1149.1 L2022.5,1149.2 L2024.5,1149.3 L2026.5,1149.3 L2028.5,1149.4 L2030.5,1149.4 L2032.5,1149.5 L2034.5,1149.5 L2036.5,1149.6 L2038.5,1149.6 L2040.5,1149.6 L2042.5,1149.6 L2044.5,1149.7 L2046.5,1149.7 L2048.5,1149.7 L2050.5,1149.7 L2052.5,1149.7 L2054.5,1149.7 L2056.5,1149.7 L2058.5,1149.7 L2060.5,1149.7 L2062.5,1149.6 L2064.5,1149.6 L2066.5,1149.6 L2068.5,1149.6 L2070.5,1149.5 L2072.5,1149.5 L2074.5,1149.4 L2076.5,1149.4 L2078.5,1149.3 L2080.5,1149.3 L2082.5,1149.2 L2084.5,1149.1 L2086.5,1149.0 L2088.5,1149.0 L2090.5,1148.9 L2092.5,1148.8 L2094.5,1148.7 L2096.5,1148.6 L2098.5,1148.5 L2100.5,1148.4 L2102.5,1148.3 L2104.5,1148.2 L2106.5,1148.0 L2108.5,1147.9 L2110.5,1147.8 L2112.5,1147.7 L2114.5,1147.5 L2116.5,1147.4 L2118.5,1147.2" stroke="#1a1616" stroke-width="4.5"/>
<path d="M291.2,994.7 L292.8,994.7 L294.4,994.6 L296.0,994.6 L297.6,994.6 L299.2,994.6 L300.8,994.6 L302.4,994.5 L304.0,994.5 L305.6,994.5 L307.2,994.5 L308.8,994.5 L310.4,994.4 L312.0,994.4 L313.6,994.4 L315.2,994.4 L316.8,994.4 L318.4,994.4 L320.0,994.3 L321.6,994.3 L323.2,994.3 L324.8,994.3 L326.4,994.3 L328.0,994.3 L328.4,994.3 M340.4,994.2 L342.0,994.2 L343.6,994.2 L345.2,994.2 L346.8,994.2 L348.4,994.2 L350.0,994.2 L351.6,994.2 L353.2,994.2 L354.8,994.2 L356.4,994.2 L358.0,994.2 L359.6,994.1 L361.2,994.1 L362.8,994.1 L364.4,994.1 L366.0,994.1 L367.6,994.1 L369.2,994.1 L370.8,994.1 L372.4,994.1 L374.0,994.1 L375.6,994.1 L377.2,994.1 L377.6,994.1 M389.6,994.1 L391.2,994.1 L392.8,994.1 L394.4,994.1 L396.0,994.1 L397.6,994.1 L399.2,994.1 L400.8,994.1 L402.4,994.1 L404.0,994.1 L405.6,994.2 L407.2,994.2 L408.8,994.2 L410.4,994.2 L412.0,994.2 L413.6,994.2 L415.2,994.2 L416.8,994.2 L418.4,994.2 L420.0,994.2 L421.6,994.2 L423.2,994.2 L424.8,994.2 L426.4,994.2 L427.2,994.2 M464.0,994.2 L465.6,994.2 L467.2,994.2 L468.8,994.2 L470.4,994.2 L472.0,994.2 L473.6,994.2 L475.2,994.2 L476.8,994.2 L478.4,994.2 L480.0,994.2 L481.6,994.2 L483.2,994.2 L484.8,994.2 L486.4,994.2 L488.0,994.2 L489.6,994.2 L491.2,994.2 L492.8,994.2 L494.4,994.2 L496.0,994.2 L497.6,994.2 L499.2,994.2 L500.8,994.2 L501.6,994.2 M513.6,994.1 L515.2,994.1 L516.8,994.1 L518.4,994.1 L520.0,994.1 L521.6,994.1 L523.2,994.1 L524.8,994.0 L526.4,994.0 L528.0,994.0 L529.6,994.0 L531.2,994.0 L532.8,994.0 L534.4,994.0 L536.0,993.9 L537.6,993.9 L539.2,993.9 L540.8,993.9 L542.4,993.9 L544.0,993.9 L545.6,993.8 L547.2,993.8 L548.8,993.8 L550.4,993.8 L550.8,993.8 M562.4,993.6 L564.0,993.6 L565.6,993.5 L567.2,993.5 L568.8,993.5 L570.4,993.5 L572.0,993.4 L573.6,993.4 L575.2,993.4 L576.8,993.3 L578.4,993.3 L580.0,993.3 L581.6,993.2 L583.2,993.2 L584.8,993.2 L586.4,993.1 L588.0,993.1 L589.6,993.0 L591.2,993.0 L592.8,993.0 L594.4,992.9 L596.0,992.9 L597.6,992.8 L599.2,992.8 M635.2,991.6 L636.8,991.5 L638.4,991.4 L640.0,991.4 L641.6,991.3 L643.2,991.2 L644.8,991.1 L646.4,991.1 L648.0,991.0 L649.6,990.9 L651.2,990.9 L652.8,990.8 L654.4,990.7 L656.0,990.6 L657.6,990.5 L659.2,990.5 L660.8,990.4 L662.4,990.3 L664.0,990.2 L665.6,990.1 L667.2,990.0 L668.8,989.9 L670.4,989.8 L671.2,989.8 M682.4,989.1 L684.0,989.0 L685.6,988.9 L687.2,988.8 L688.8,988.7 L690.4,988.6 L692.0,988.5 L693.6,988.4 L695.2,988.2 L696.8,988.1 L698.4,988.0 L700.0,987.9 L701.6,987.8 L703.2,987.6 L704.8,987.5 L706.4,987.4 L708.0,987.2 L709.6,987.1 L711.2,987.0 L712.8,986.8 L714.4,986.7 L716.0,986.5 L717.6,986.4 M728.4,985.3 L730.0,985.2 L731.6,985.0 L733.2,984.8 L734.8,984.7 L736.4,984.5 L738.0,984.3 L739.6,984.1 L741.2,983.9 L742.8,983.8 L744.4,983.6 L746.0,983.4 L747.6,983.2 L749.2,983.0 L750.8,982.8 L752.4,982.6 L754.0,982.4 L755.6,982.2 L757.2,981.9 L758.8,981.7 L760.4,981.5 L762.0,981.3 L762.4,981.2 M794.8,975.9 L796.4,975.6 L798.0,975.3 L799.6,975.0 L801.2,974.7 L802.8,974.4 L804.4,974.1 L806.0,973.8 L807.6,973.4 L809.2,973.1 L810.8,972.8 L812.4,972.4 L814.0,972.1 L815.6,971.7 L817.2,971.4 L818.8,971.0 L820.4,970.7 L822.0,970.3 L823.6,969.9 L825.2,969.5 L826.4,969.3 M836.0,966.9 L837.6,966.5 L839.2,966.1 L840.8,965.7 L842.4,965.3 L844.0,964.9 L845.6,964.5 L847.2,964.1 L848.8,963.7 L850.4,963.3 L852.0,962.8 L853.6,962.4 L855.2,962.0 L856.8,961.6 L858.4,961.1 L860.0,960.7 L861.6,960.3 L863.2,959.8 L864.8,959.4 L866.4,959.0 M876.0,956.3 L877.6,955.9 L879.2,955.4 L880.8,955.0 L882.4,954.5 L884.0,954.1 L885.6,953.6 L887.2,953.2 L888.8,952.7 L890.4,952.3 L892.0,951.8 L893.6,951.4 L895.2,950.9 L896.8,950.5 L898.4,950.0 L900.0,949.6 L901.6,949.1 L903.2,948.7 L904.8,948.2 L906.0,947.9 M935.6,939.8 L937.2,939.4 L938.8,939.0 L940.4,938.6 L942.0,938.2 L943.6,937.8 L945.2,937.3 L946.8,936.9 L948.4,936.5 L950.0,936.1 L951.6,935.7 L953.2,935.4 L954.8,935.0 L956.4,934.6 L958.0,934.2 L959.6,933.8 L961.2,933.4 L962.8,933.1 L964.4,932.7 L966.0,932.3 L966.4,932.2 M976.4,930.0 L978.0,929.7 L979.6,929.4 L981.2,929.0 L982.8,928.7 L984.4,928.4 L986.0,928.1 L987.6,927.8 L989.2,927.4 L990.8,927.1 L992.4,926.8 L994.0,926.5 L995.6,926.2 L997.2,925.9 L998.8,925.7 L1000.4,925.4 L1002.0,925.1 L1003.6,924.8 L1005.2,924.5 L1006.8,924.3 L1008.4,924.0 M1018.8,922.4 L1020.4,922.2 L1022.0,922.0 L1023.6,921.8 L1025.2,921.6 L1026.8,921.3 L1028.4,921.1 L1030.0,920.9 L1031.6,920.7 L1033.2,920.6 L1034.8,920.4 L1036.4,920.2 L1038.0,920.0 L1039.6,919.9 L1041.2,919.7 L1042.8,919.5 L1044.4,919.4 L1046.0,919.2 L1047.6,919.1 L1049.2,919.0 L1050.8,918.8 L1052.4,918.7 L1053.2,918.6 M1088.8,917.3 L1090.4,917.3 L1092.0,917.3 L1093.6,917.4 L1095.2,917.4 L1096.8,917.4 L1098.4,917.5 L1100.0,917.5 L1101.6,917.6 L1103.2,917.6 L1104.8,917.7 L1106.4,917.8 L1108.0,917.9 L1109.6,917.9 L1111.2,918.0 L1112.8,918.1 L1114.4,918.2 L1116.0,918.4 L1117.6,918.5 L1119.2,918.6 L1120.8,918.7 L1122.4,918.9 L1124.0,919.0 L1124.8,919.1 M1135.6,920.3 L1137.2,920.5 L1138.8,920.7 L1140.4,920.9 L1142.0,921.2 L1143.6,921.4 L1145.2,921.6 L1146.8,921.9 L1148.4,922.1 L1150.0,922.4 L1151.6,922.7 L1153.2,922.9 L1154.8,923.2 L1156.4,923.5 L1158.0,923.8 L1159.6,924.1 L1161.2,924.4 L1162.8,924.7 L1164.4,925.0 L1166.0,925.3 L1167.6,925.7 L1168.4,925.8 M1178.4,928.0 L1180.0,928.3 L1181.6,928.7 L1183.2,929.1 L1184.8,929.4 L1186.4,929.8 L1188.0,930.2 L1189.6,930.6 L1191.2,931.0 L1192.8,931.3 L1194.4,931.7 L1196.0,932.1 L1197.6,932.5 L1199.2,932.9 L1200.8,933.3 L1202.4,933.7 L1204.0,934.1 L1205.6,934.6 L1207.2,935.0 L1208.8,935.4 L1209.2,935.5 M1238.8,943.3 L1240.4,943.8 L1242.0,944.2 L1243.6,944.6 L1245.2,945.1 L1246.8,945.5 L1248.4,945.9 L1250.0,946.3 L1251.6,946.8 L1253.2,947.2 L1254.8,947.6 L1256.4,948.0 L1258.0,948.5 L1259.6,948.9 L1261.2,949.3 L1262.8,949.7 L1264.4,950.1 L1266.0,950.5 L1267.6,950.9 L1269.2,951.3 M1279.2,953.8 L1280.8,954.2 L1282.4,954.6 L1284.0,955.0 L1285.6,955.4 L1287.2,955.7 L1288.8,956.1 L1290.4,956.5 L1292.0,956.9 L1293.6,957.2 L1295.2,957.6 L1296.8,957.9 L1298.4,958.3 L1300.0,958.6 L1301.6,959.0 L1303.2,959.3 L1304.8,959.6 L1306.4,960.0 L1308.0,960.3 L1309.6,960.6 L1310.4,960.8 M1320.4,962.6 L1322.1,962.8 L1323.7,963.2 L1325.3,963.6 L1326.9,964.0 L1328.5,964.4 L1330.1,964.8 L1331.7,965.2 L1333.3,965.5 L1334.9,965.9 L1336.5,966.3 L1338.1,966.7 L1339.7,967.1 L1341.3,967.5 L1342.9,967.9 L1344.5,968.3 L1346.1,968.7 L1347.7,969.1 L1349.3,969.5 L1350.9,969.9 L1351.3,969.9 M1382.1,977.3 L1383.7,977.7 L1385.3,978.1 L1386.9,978.5 L1388.5,978.9 L1390.1,979.3 L1391.7,979.7 L1393.3,980.0 L1394.9,980.4 L1396.5,980.8 L1398.1,981.2 L1399.7,981.6 L1401.3,982.0 L1402.9,982.4 L1404.5,982.8 L1406.1,983.1 L1407.7,983.5 L1409.3,983.9 L1410.9,984.3 L1412.5,984.7 L1414.1,985.1 L1415.7,985.5 M1427.3,988.4 L1428.9,988.8 L1430.5,989.2 L1432.1,989.6 L1433.7,990.0 L1435.3,990.5 L1436.9,990.9 L1438.5,991.3 L1440.1,991.7 L1441.7,992.1 L1443.3,992.5 L1444.9,993.0 L1446.5,993.4 L1448.1,993.8 L1449.7,994.2 L1451.3,994.7 L1452.9,995.1 L1454.5,995.5 L1456.1,995.9 L1457.7,996.4 L1459.3,996.8 L1460.9,997.3 L1462.5,997.7 L1464.1,998.1 L1464.9,998.4 M1476.9,1001.8 L1478.5,1002.2 L1480.1,1002.7 L1481.7,1003.2 L1483.3,1003.6 L1484.9,1004.1 L1486.5,1004.6 L1488.1,1005.1 L1489.7,1005.5 L1491.3,1006.0 L1492.9,1006.5 L1494.5,1007.0 L1496.1,1007.5 L1497.7,1008.0 L1499.3,1008.5 L1500.9,1009.0 L1502.5,1009.5 L1504.1,1009.9 L1505.7,1010.4 L1507.3,1010.9 L1508.9,1011.4 L1510.5,1012.0 L1512.1,1012.5 L1513.7,1013.0 L1514.5,1013.2 M1551.3,1025.3 L1552.9,1025.9 L1554.5,1026.4 L1556.1,1027.0 L1557.7,1027.5 L1559.3,1028.1 L1560.9,1028.6 L1562.5,1029.2 L1564.1,1029.7 L1565.7,1030.3 L1567.3,1030.8 L1568.9,1031.4 L1570.5,1031.9 L1572.1,1032.5 L1573.7,1033.1 L1575.3,1033.6 L1576.9,1034.2 L1578.5,1034.7 L1580.1,1035.3 L1581.7,1035.9 L1583.3,1036.4 L1584.9,1037.0 L1586.5,1037.5 L1588.1,1038.1 L1588.9,1038.4 M1600.9,1042.6 L1602.5,1043.2 L1604.1,1043.8 L1605.7,1044.4 L1607.3,1044.9 L1608.9,1045.5 L1610.5,1046.1 L1612.1,1046.6 L1613.7,1047.2 L1615.3,1047.8 L1616.9,1048.4 L1618.5,1048.9 L1620.1,1049.5 L1621.7,1050.1 L1623.3,1050.7 L1624.9,1051.2 L1626.5,1051.8 L1628.1,1052.4 L1629.7,1053.0 L1631.3,1053.5 L1632.9,1054.1 L1634.5,1054.7 L1636.1,1055.3 L1637.7,1055.8 L1638.5,1056.1 M1650.5,1060.4 L1652.1,1061.0 L1653.7,1061.6 L1655.3,1062.2 L1656.9,1062.7 L1658.5,1063.3 L1660.1,1063.9 L1661.7,1064.5 L1663.3,1065.0 L1664.9,1065.6 L1666.5,1066.2 L1668.1,1066.8 L1669.7,1067.3 L1671.3,1067.9 L1672.9,1068.5 L1674.5,1069.0 L1676.1,1069.6 L1677.7,1070.2 L1679.3,1070.7 L1680.9,1071.3 L1682.5,1071.9 L1684.1,1072.4 L1685.7,1073.0 L1687.3,1073.6 L1688.1,1073.9 M1724.9,1086.6 L1726.5,1087.2 L1728.1,1087.7 L1729.7,1088.2 L1731.3,1088.8 L1732.9,1089.3 L1734.5,1089.8 L1736.1,1090.4 L1737.7,1090.9 L1739.3,1091.4 L1740.9,1092.0 L1742.5,1092.5 L1744.1,1093.0 L1745.7,1093.6 L1747.3,1094.1 L1748.9,1094.6 L1750.5,1095.1 L1752.1,1095.6 L1753.7,1096.2 L1755.3,1096.7 L1756.9,1097.2 L1758.5,1097.7 L1760.1,1098.2 L1761.7,1098.7 L1762.5,1099.0 M1774.5,1102.7 L1776.1,1103.2 L1777.7,1103.7 L1779.3,1104.2 L1780.9,1104.7 L1782.5,1105.2 L1784.1,1105.7 L1785.7,1106.1 L1787.3,1106.6 L1788.9,1107.1 L1790.5,1107.6 L1792.1,1108.0 L1793.7,1108.5 L1795.3,1109.0 L1796.9,1109.4 L1798.5,1109.9 L1800.1,1110.4 L1801.7,1110.8 L1803.3,1111.3 L1804.9,1111.7 L1806.5,1112.2 L1808.1,1112.6 L1809.7,1113.1 L1811.3,1113.5 L1812.1,1113.7 M1824.1,1117.0 L1825.7,1117.4 L1827.3,1117.8 L1828.9,1118.3 L1830.5,1118.7 L1832.1,1119.1 L1833.7,1119.5 L1835.3,1119.9 L1836.9,1120.3 L1838.5,1120.7 L1840.1,1121.1 L1841.7,1121.5 L1843.3,1121.9 L1844.9,1122.3 L1846.5,1122.6 L1848.1,1123.0 L1849.7,1123.4 L1851.3,1123.8 L1852.9,1124.2 L1854.5,1124.5 L1856.1,1124.9 L1857.7,1125.3 L1859.3,1125.6 L1860.9,1126.0 L1861.7,1126.2 M1898.5,1133.5 L1900.1,1133.8 L1901.7,1134.1 L1903.3,1134.4 L1904.9,1134.6 L1906.5,1134.9 L1908.1,1135.2 L1909.7,1135.5 L1911.3,1135.7 L1912.9,1136.0 L1914.5,1136.2 L1916.1,1136.5 L1917.7,1136.7 L1919.3,1137.0 L1920.9,1137.2 L1922.5,1137.5 L1924.1,1137.7 L1925.7,1138.0 L1927.3,1138.2 L1928.9,1138.4 L1930.5,1138.6 L1932.1,1138.9 L1933.7,1139.1 L1935.3,1139.3 L1936.1,1139.4 M1948.1,1140.9 L1949.7,1141.1 L1951.3,1141.3 L1952.9,1141.5 L1954.5,1141.7 L1956.1,1141.9 L1957.7,1142.0 L1959.3,1142.2 L1960.9,1142.4 L1962.5,1142.6 L1964.1,1142.7 L1965.7,1142.9 L1967.3,1143.0 L1968.9,1143.2 L1970.5,1143.3 L1972.1,1143.5 L1973.7,1143.6 L1975.3,1143.8 L1976.9,1143.9 L1978.5,1144.1 L1980.1,1144.2 L1981.7,1144.3 L1983.3,1144.5 L1984.9,1144.6 L1985.7,1144.6 M1997.3,1145.5 L1998.9,1145.6 L2000.5,1145.7 L2002.1,1145.7 L2003.7,1145.8 L2005.3,1145.9 L2006.9,1146.0 L2008.5,1146.1 L2010.1,1146.2 L2011.7,1146.2 L2013.3,1146.3 L2014.9,1146.4 L2016.5,1146.5 L2018.1,1146.5 L2019.7,1146.6 L2021.3,1146.6 L2022.9,1146.7 L2024.5,1146.8 L2026.1,1146.8 L2027.7,1146.8 L2029.3,1146.9 L2030.9,1146.9 L2032.5,1147.0 L2034.1,1147.0 L2034.9,1147.0 M2072.1,1147.0 L2073.7,1146.9 L2075.3,1146.9 L2076.9,1146.9 L2078.5,1146.8 L2080.1,1146.8 L2081.7,1146.7 L2083.3,1146.7 L2084.9,1146.6 L2086.5,1146.5 L2088.1,1146.5 L2089.7,1146.4 L2091.3,1146.3 L2092.9,1146.3 L2094.5,1146.2 L2096.1,1146.1 L2097.7,1146.0 L2099.3,1146.0 L2100.9,1145.9 L2102.5,1145.8 L2104.1,1145.7 L2105.7,1145.6 L2107.3,1145.5 L2108.9,1145.4 L2109.7,1145.3" stroke="#26329a" stroke-width="4.6"/>
<path d="M214.0,1312.2 L245.8,1314.0 M253.8,1315.6 L283.6,1317.9 M293.9,1319.0 L323.6,1323.6 M332.8,1323.6 L363.7,1325.5 M374.0,1327.0 L407.2,1328.2 M415.2,1330.5 L445.0,1332.3 M454.1,1332.3 L487.3,1335.0 M497.6,1334.0 L530.8,1336.2 M540.0,1336.2 L568.6,1339.7 M578.9,1338.5 L612.0,1339.7 M622.4,1338.5 L652.2,1339.7 M662.5,1339.7 L695.6,1343.0 M706.3,1339.3 L737.2,1340.4 M746.4,1340.4 L779.6,1342.7 M787.6,1342.7 L822.0,1343.9 M830.0,1341.6 L863.0,1341.6 M873.4,1340.4 L907.8,1338.1 M918.0,1338.1 L947.9,1340.4 M958.2,1335.9 L992.5,1338.1 M1001.7,1337.0 L1033.7,1335.9 M1042.9,1331.3 L1073.8,1331.3 M1081.8,1325.5 L1113.8,1322.1 M1121.8,1322.1 L1150.5,1316.4 M1162.3,1314.4 L1194.3,1309.8 M1205.8,1307.5 L1234.4,1297.2 M1242.4,1296.1 L1274.5,1291.5 M1283.6,1293.8 L1315.7,1288.1 M1327.1,1291.5 L1355.7,1282.4 M1367.2,1284.6 L1380.9,1281.2 L1399.2,1286.9 M1407.3,1287.0 L1422.0,1281.2 L1438.2,1289.2 M1447.3,1285.8 L1479.4,1289.2 M1487.4,1287.0 L1519.4,1288.1 M1530.9,1287.0 L1562.9,1287.0 M1574.4,1288.1 L1606.4,1283.5 M1617.9,1287.0 L1649.9,1284.6 M1660.9,1285.8 L1694.1,1288.1 M1703.3,1283.5 L1737.6,1284.6 M1747.9,1281.2 L1762.0,1285.8 L1777.7,1282.4 M1785.7,1284.6 L1817.7,1281.2 M1826.9,1281.2 L1858.9,1278.9 M1869.2,1282.4 L1884.0,1276.6 L1899.0,1278.9 M1909.3,1280.0 L1942.5,1278.9 M1950.5,1275.5 L1966.0,1280.0 L1981.4,1276.6 M1990.6,1275.5 L2006.0,1277.8 L2022.6,1275.5 M2030.6,1276.6 L2062.7,1273.2 M2074.1,1276.6 L2089.0,1270.9 L2103.9,1276.6 M2112.0,1274.0 L2118.0,1273.0" stroke="#1a1616" stroke-width="5"/>
</g>
<line x1="1140" y1="110.7" x2="1410" y2="110.7" stroke="#ff5a2d" stroke-width="4.5" stroke-dasharray="49 13 3.5 13.5 3.5 11.5"/>
<line x1="1138.5" y1="194" x2="1423.5" y2="194" stroke="#26329a" stroke-width="4.5" stroke-dasharray="40 10.3"/>
<line x1="1138.5" y1="275.3" x2="1423.5" y2="275.3" stroke="#e9599f" stroke-width="5" stroke-dasharray="51 13 3.5 10.5"/>
<g font-family="Liberation Serif, Times New Roman, serif" fill="#111" font-size="64">
<text x="1491.8" y="133.3">Deconvoluted peak P1</text>
<text x="1491.8" y="214">Deconvoluted peak P2</text>
<text x="1491.8" y="294.6">Deconvoluted peak P3</text>
</g>
<g font-family="Liberation Serif, Times New Roman, serif" fill="#111" font-size="65">
<text x="634" y="378.6">P1</text>
<text x="1067" y="362.4">P2</text>
<text x="1809.8" y="520">P3</text>
<text x="715.4" y="819.2">P1</text>
<text x="1190" y="879">P2</text>
</g>
<g font-family="Liberation Serif, Times New Roman, serif" fill="#111" font-size="66">
<text x="234" y="472.3">(c)</text>
<text x="233.2" y="915.6">(b)</text>
<text x="235.8" y="1251.6">(a)</text>
</g>
<g font-family="Liberation Serif, Times New Roman, serif" fill="#111" font-size="66" text-anchor="middle">
<text x="214.5" y="1516">500</text>
<text x="452.5" y="1516">550</text>
<text x="690.5" y="1516">600</text>
<text x="928.5" y="1516">650</text>
<text x="1166.5" y="1516">700</text>
<text x="1404.5" y="1516">750</text>
<text x="1642.5" y="1516">800</text>
<text x="1880.5" y="1516">850</text>
<text x="2118.5" y="1516">900</text>
</g>
<text font-family="Liberation Serif, Times New Roman, serif" fill="#111" font-size="76" x="913.8 958.7 989.3 1047.2 1086.2 1120.8 1143.7 1179.1 1201.2 1236.1 1260.4 1290 1314.4 1339.2 1392.6" y="1647.5">Temperature (K)</text>
<g font-family="Liberation Serif, Times New Roman, serif" fill="#111" transform="translate(102,0) rotate(-90)" stroke="#ffffff" stroke-width="1.2">
<text x="-1101.6 -1046.4 -1013 -986.8 -966.75 -929.95 -911 -893.2 -822.4 -787.5 -768.4 -728.7 -691 -670 -650.85 -628.3 -569.9 -532 -515.8 -456.3 -435.2" y="0" font-size="76">Deriv. Weight (mg min</text>
<text x="-399.1 -383.1" y="-39.5" font-size="49">-1</text>
<text x="-356.15" y="0" font-size="76">)</text>
</g>
</svg>
</body></html>
